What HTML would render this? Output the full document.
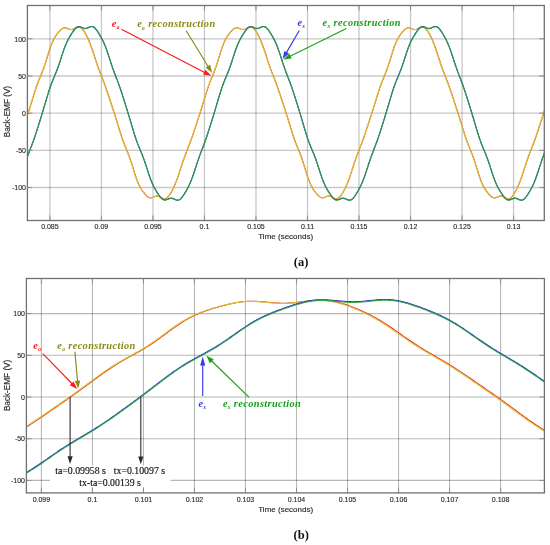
<!DOCTYPE html><html><head><meta charset="utf-8"><style>html,body{margin:0;padding:0;background:#fff;}svg{display:block;filter:blur(0.28px)}</style></head><body>
<svg width="550" height="545" viewBox="0 0 550 545">
<rect width="550" height="545" fill="#fff"/>
<g style="mix-blend-mode:multiply">
<line x1="49.90" y1="5.5" x2="49.90" y2="220.5" stroke="#c8c8c8" stroke-width="1.3" style="mix-blend-mode:multiply"/>
<line x1="101.42" y1="5.5" x2="101.42" y2="220.5" stroke="#c8c8c8" stroke-width="1.3" style="mix-blend-mode:multiply"/>
<line x1="152.94" y1="5.5" x2="152.94" y2="220.5" stroke="#c8c8c8" stroke-width="1.3" style="mix-blend-mode:multiply"/>
<line x1="204.46" y1="5.5" x2="204.46" y2="220.5" stroke="#c8c8c8" stroke-width="1.3" style="mix-blend-mode:multiply"/>
<line x1="255.98" y1="5.5" x2="255.98" y2="220.5" stroke="#c8c8c8" stroke-width="1.3" style="mix-blend-mode:multiply"/>
<line x1="307.50" y1="5.5" x2="307.50" y2="220.5" stroke="#c8c8c8" stroke-width="1.3" style="mix-blend-mode:multiply"/>
<line x1="359.02" y1="5.5" x2="359.02" y2="220.5" stroke="#c8c8c8" stroke-width="1.3" style="mix-blend-mode:multiply"/>
<line x1="410.54" y1="5.5" x2="410.54" y2="220.5" stroke="#c8c8c8" stroke-width="1.3" style="mix-blend-mode:multiply"/>
<line x1="462.06" y1="5.5" x2="462.06" y2="220.5" stroke="#c8c8c8" stroke-width="1.3" style="mix-blend-mode:multiply"/>
<line x1="513.58" y1="5.5" x2="513.58" y2="220.5" stroke="#c8c8c8" stroke-width="1.3" style="mix-blend-mode:multiply"/>
<line x1="27.4" y1="187.51" x2="544.3" y2="187.51" stroke="#c8c8c8" stroke-width="1.3" style="mix-blend-mode:multiply"/>
<line x1="27.4" y1="150.34" x2="544.3" y2="150.34" stroke="#c8c8c8" stroke-width="1.3" style="mix-blend-mode:multiply"/>
<line x1="27.4" y1="113.16" x2="544.3" y2="113.16" stroke="#c8c8c8" stroke-width="1.3" style="mix-blend-mode:multiply"/>
<line x1="27.4" y1="75.98" x2="544.3" y2="75.98" stroke="#c8c8c8" stroke-width="1.3" style="mix-blend-mode:multiply"/>
<line x1="27.4" y1="38.81" x2="544.3" y2="38.81" stroke="#c8c8c8" stroke-width="1.3" style="mix-blend-mode:multiply"/>
</g>
<clipPath id="ca"><rect x="27.4" y="5.5" width="516.90" height="215.00"/></clipPath>
<g clip-path="url(#ca)" fill="none" stroke-linejoin="round">
<polyline points="26.40,118.52 27.15,116.23 27.90,113.92 28.65,111.59 29.40,109.23 30.15,106.84 30.90,104.43 31.65,101.98 32.40,99.53 33.15,97.08 33.90,94.65 34.65,92.26 35.40,89.94 36.15,87.69 36.90,85.54 37.65,83.49 38.40,81.52 39.15,79.62 39.90,77.78 40.65,75.96 41.40,74.12 42.15,72.25 42.90,70.31 43.65,68.28 44.40,66.14 45.15,63.90 45.90,61.57 46.65,59.17 47.40,56.73 48.15,54.28 48.90,51.88 49.65,49.55 50.40,47.33 51.15,45.25 51.90,43.34 52.65,41.59 53.40,40.00 54.15,38.57 54.90,37.27 55.65,36.09 56.40,34.99 57.15,33.97 57.90,33.01 58.65,32.09 59.40,31.23 60.15,30.42 60.90,29.69 61.65,29.06 62.40,28.54 63.15,28.15 63.90,27.90 64.65,27.80 65.40,27.83 66.15,27.99 66.90,28.23 67.65,28.53 68.40,28.85 69.15,29.14 69.90,29.37 70.65,29.51 71.40,29.54 72.15,29.45 72.90,29.24 73.65,28.92 74.40,28.54 75.15,28.11 75.90,27.69 76.65,27.31 77.40,27.03 78.15,26.87 78.90,26.85 79.65,27.01 80.40,27.35 81.15,27.86 81.90,28.54 82.65,29.38 83.40,30.35 84.15,31.45 84.90,32.64 85.65,33.94 86.40,35.32 87.15,36.79 87.90,38.35 88.65,40.00 89.40,41.75 90.15,43.61 90.90,45.58 91.65,47.64 92.40,49.80 93.15,52.04 93.90,54.32 94.65,56.64 95.40,58.96 96.15,61.27 96.90,63.53 97.65,65.73 98.40,67.87 99.15,69.93 99.90,71.94 100.65,73.89 101.40,75.81 102.15,77.72 102.90,79.64 103.65,81.58 104.40,83.56 105.15,85.60 105.90,87.70 106.65,89.85 107.40,92.04 108.15,94.28 108.90,96.54 109.65,98.82 110.40,101.11 111.15,103.40 111.90,105.69 112.65,107.98 113.40,110.29 114.15,112.60 114.90,114.94 115.65,117.31 116.40,119.71 117.15,122.14 117.90,124.59 118.65,127.05 119.40,129.49 120.15,131.91 120.90,134.27 121.65,136.56 122.40,138.77 123.15,140.88 123.90,142.90 124.65,144.83 125.40,146.70 126.15,148.53 126.90,150.36 127.65,152.20 128.40,154.10 129.15,156.08 129.90,158.15 130.65,160.33 131.40,162.61 132.15,164.98 132.90,167.40 133.65,169.85 134.40,172.28 135.15,174.66 135.90,176.95 136.65,179.11 137.40,181.12 138.15,182.96 138.90,184.64 139.65,186.16 140.40,187.54 141.15,188.78 141.90,189.93 142.65,190.99 143.40,191.99 144.15,192.93 144.90,193.83 145.65,194.67 146.40,195.44 147.15,196.13 147.90,196.72 148.65,197.19 149.40,197.52 150.15,197.71 150.90,197.75 151.65,197.67 152.40,197.47 153.15,197.20 153.90,196.89 154.65,196.58 155.40,196.30 156.15,196.11 156.90,196.01 157.65,196.03 158.40,196.18 159.15,196.43 159.90,196.78 160.65,197.19 161.40,197.62 162.15,198.03 162.90,198.37 163.65,198.61 164.40,198.71 165.15,198.65 165.90,198.42 166.65,198.01 167.40,197.42 168.15,196.67 168.90,195.78 169.65,194.75 170.40,193.62 171.15,192.38 171.90,191.05 172.65,189.63 173.40,188.12 174.15,186.53 174.90,184.83 175.65,183.03 176.40,181.13 177.15,179.12 177.90,177.02 178.65,174.82 179.40,172.56 180.15,170.26 180.90,167.94 181.65,165.62 182.40,163.33 183.15,161.10 183.90,158.92 184.65,156.81 185.40,154.77 186.15,152.79 186.90,150.86 187.65,148.94 188.40,147.03 189.15,145.11 189.90,143.15 190.65,141.14 191.40,139.08 192.15,136.96 192.90,134.79 193.65,132.58 194.40,130.33 195.15,128.06 195.90,125.77 196.65,123.48 197.40,121.19 198.15,118.90 198.90,116.61 199.65,114.30 200.40,111.97 201.15,109.62 201.90,107.24 202.65,104.83 203.40,102.39 204.15,99.93 204.90,97.48 205.65,95.04 206.40,92.65 207.15,90.31 207.90,88.06 208.65,85.89 209.40,83.82 210.15,81.83 210.90,79.93 211.65,78.08 212.40,76.26 213.15,74.43 213.90,72.56 214.65,70.64 215.40,68.62 216.15,66.50 216.90,64.28 217.65,61.96 218.40,59.57 219.15,57.13 219.90,54.68 220.65,52.27 221.40,49.92 222.15,47.69 222.90,45.58 223.65,43.64 224.40,41.86 225.15,40.25 225.90,38.80 226.65,37.48 227.40,36.28 228.15,35.17 228.90,34.14 229.65,33.16 230.40,32.24 231.15,31.36 231.90,30.55 232.65,29.81 233.40,29.16 234.15,28.62 234.90,28.21 235.65,27.94 236.40,27.81 237.15,27.82 237.90,27.95 238.65,28.18 239.40,28.48 240.15,28.80 240.90,29.10 241.65,29.34 242.40,29.50 243.15,29.55 243.90,29.47 244.65,29.28 245.40,28.98 246.15,28.60 246.90,28.18 247.65,27.76 248.40,27.37 249.15,27.07 249.90,26.88 250.65,26.85 251.40,26.97 252.15,27.28 252.90,27.77 253.65,28.42 254.40,29.23 255.15,30.18 255.90,31.26 256.65,32.44 257.40,33.72 258.15,35.09 258.90,36.54 259.65,38.08 260.40,39.72 261.15,41.46 261.90,43.30 262.65,45.25 263.40,47.30 264.15,49.44 264.90,51.66 265.65,53.94 266.40,56.26 267.15,58.58 267.90,60.89 268.65,63.16 269.40,65.37 270.15,67.52 270.90,69.60 271.65,71.61 272.40,73.57 273.15,75.50 273.90,77.41 274.65,79.32 275.40,81.26 276.15,83.23 276.90,85.26 277.65,87.35 278.40,89.49 279.15,91.68 279.90,93.91 280.65,96.17 281.40,98.45 282.15,100.73 282.90,103.02 283.65,105.31 284.40,107.61 285.15,109.91 285.90,112.22 286.65,114.56 287.40,116.92 288.15,119.32 288.90,121.74 289.65,124.19 290.40,126.64 291.15,129.09 291.90,131.51 292.65,133.89 293.40,136.19 294.15,138.41 294.90,140.54 295.65,142.57 296.40,144.52 297.15,146.40 297.90,148.24 298.65,150.06 299.40,151.90 300.15,153.78 300.90,155.75 301.65,157.80 302.40,159.97 303.15,162.23 303.90,164.58 304.65,167.00 305.40,169.44 306.15,171.88 306.90,174.27 307.65,176.58 308.40,178.76 309.15,180.80 309.90,182.67 310.65,184.38 311.40,185.92 312.15,187.32 312.90,188.59 313.65,189.75 314.40,190.82 315.15,191.83 315.90,192.78 316.65,193.68 317.40,194.53 318.15,195.32 318.90,196.03 319.65,196.63 320.40,197.12 321.15,197.47 321.90,197.69 322.65,197.75 323.40,197.69 324.15,197.51 324.90,197.25 325.65,196.94 326.40,196.63 327.15,196.34 327.90,196.13 328.65,196.02 329.40,196.02 330.15,196.14 330.90,196.38 331.65,196.72 332.40,197.12 333.15,197.55 333.90,197.96 334.65,198.32 335.40,198.58 336.15,198.70 336.90,198.67 337.65,198.47 338.40,198.09 339.15,197.53 339.90,196.81 340.65,195.94 341.40,194.93 342.15,193.81 342.90,192.59 343.65,191.27 344.40,189.87 345.15,188.38 345.90,186.80 346.65,185.12 347.40,183.34 348.15,181.45 348.90,179.46 349.65,177.37 350.40,175.19 351.15,172.94 351.90,170.64 352.65,168.32 353.40,166.00 354.15,163.71 354.90,161.46 355.65,159.27 356.40,157.16 357.15,155.11 357.90,153.12 358.65,151.17 359.40,149.26 360.15,147.35 360.90,145.43 361.65,143.47 362.40,141.48 363.15,139.42 363.90,137.31 364.65,135.15 365.40,132.94 366.15,130.70 366.90,128.43 367.65,126.15 368.40,123.86 369.15,121.57 369.90,119.28 370.65,116.98 371.40,114.68 372.15,112.36 372.90,110.01 373.65,107.63 374.40,105.22 375.15,102.79 375.90,100.34 376.65,97.88 377.40,95.44 378.15,93.04 378.90,90.69 379.65,88.42 380.40,86.24 381.15,84.15 381.90,82.16 382.65,80.24 383.40,78.38 384.15,76.55 384.90,74.73 385.65,72.87 386.40,70.96 387.15,68.96 387.90,66.86 388.65,64.65 389.40,62.35 390.15,59.97 390.90,57.53 391.65,55.08 392.40,52.66 393.15,50.30 393.90,48.04 394.65,45.92 395.40,43.95 396.15,42.14 396.90,40.51 397.65,39.03 398.40,37.69 399.15,36.47 399.90,35.35 400.65,34.30 401.40,33.32 402.15,32.39 402.90,31.50 403.65,30.68 404.40,29.92 405.15,29.26 405.90,28.70 406.65,28.26 407.40,27.97 408.15,27.82 408.90,27.81 409.65,27.92 410.40,28.14 411.15,28.43 411.90,28.74 412.65,29.05 413.40,29.31 414.15,29.48 414.90,29.55 415.65,29.49 416.40,29.32 417.15,29.04 417.90,28.67 418.65,28.25 419.40,27.82 420.15,27.43 420.90,27.11 421.65,26.90 422.40,26.84 423.15,26.94 423.90,27.22 424.65,27.68 425.40,28.30 426.15,29.09 426.90,30.02 427.65,31.07 428.40,32.24 429.15,33.50 429.90,34.86 430.65,36.29 431.40,37.82 432.15,39.44 432.90,41.16 433.65,42.99 434.40,44.92 435.15,46.95 435.90,49.08 436.65,51.29 437.40,53.57 438.15,55.88 438.90,58.20 439.65,60.51 440.40,62.79 441.15,65.01 441.90,67.17 442.65,69.26 443.40,71.28 444.15,73.25 444.90,75.18 445.65,77.09 446.40,79.00 447.15,80.94 447.90,82.91 448.65,84.93 449.40,87.00 450.15,89.13 450.90,91.31 451.65,93.54 452.40,95.80 453.15,98.07 453.90,100.36 454.65,102.65 455.40,104.94 456.15,107.23 456.90,109.53 457.65,111.84 458.40,114.17 459.15,116.53 459.90,118.92 460.65,121.34 461.40,123.78 462.15,126.24 462.90,128.69 463.65,131.12 464.40,133.50 465.15,135.82 465.90,138.05 466.65,140.19 467.40,142.24 468.15,144.20 468.90,146.09 469.65,147.94 470.40,149.76 471.15,151.59 471.90,153.47 472.65,155.42 473.40,157.46 474.15,159.60 474.90,161.85 475.65,164.19 476.40,166.60 477.15,169.04 477.90,171.48 478.65,173.89 479.40,176.21 480.15,178.41 480.90,180.47 481.65,182.38 482.40,184.11 483.15,185.68 483.90,187.10 484.65,188.39 485.40,189.56 486.15,190.65 486.90,191.67 487.65,192.63 488.40,193.54 489.15,194.40 489.90,195.20 490.65,195.92 491.40,196.54 492.15,197.05 492.90,197.43 493.65,197.66 494.40,197.75 495.15,197.71 495.90,197.55 496.65,197.30 497.40,196.99 498.15,196.68 498.90,196.39 499.65,196.16 500.40,196.03 501.15,196.01 501.90,196.11 502.65,196.34 503.40,196.66 504.15,197.05 504.90,197.48 505.65,197.90 506.40,198.27 507.15,198.54 507.90,198.69 508.65,198.69 509.40,198.51 510.15,198.16 510.90,197.63 511.65,196.94 512.40,196.09 513.15,195.10 513.90,194.00 514.65,192.79 515.40,191.49 516.15,190.10 516.90,188.63 517.65,187.06 518.40,185.40 519.15,183.64 519.90,181.77 520.65,179.79 521.40,177.72 522.15,175.55 522.90,173.31 523.65,171.02 524.40,168.70 525.15,166.38 525.90,164.08 526.65,161.83 527.40,159.63 528.15,157.50 528.90,155.44 529.65,153.44 530.40,151.49 531.15,149.57 531.90,147.66 532.65,145.74 533.40,143.80 534.15,141.81 534.90,139.76 535.65,137.67 536.40,135.51 537.15,133.31 537.90,131.07 538.65,128.81 539.40,126.53 540.15,124.24 540.90,121.95 541.65,119.66 542.40,117.36 543.15,115.06 543.90,112.74 544.65,110.40" stroke="#f02818" stroke-width="1.05"/>
<polyline points="26.40,117.85 27.15,115.55 27.90,113.23 28.65,110.90 29.40,108.53 30.15,106.13 30.90,103.71 31.65,101.26 32.40,98.80 33.15,96.35 33.90,93.94 34.65,91.57 35.40,89.27 36.15,87.05 36.90,84.93 37.65,82.91 38.40,80.96 39.15,79.09 39.90,77.25 40.65,75.43 41.40,73.59 42.15,71.70 42.90,69.73 43.65,67.67 44.40,65.50 45.15,63.23 45.90,60.87 46.65,58.45 47.40,56.00 48.15,53.57 48.90,51.18 49.65,48.88 50.40,46.71 51.15,44.68 51.90,42.82 52.65,41.12 53.40,39.59 54.15,38.20 54.90,36.94 55.65,35.79 56.40,34.72 57.15,33.72 57.90,32.77 58.65,31.87 59.40,31.02 60.15,30.24 60.90,29.54 61.65,28.94 62.40,28.46 63.15,28.12 63.90,27.92 64.65,27.86 65.40,27.93 66.15,28.12 66.90,28.38 67.65,28.69 68.40,29.01 69.15,29.28 69.90,29.49 70.65,29.60 71.40,29.59 72.15,29.45 72.90,29.21 73.65,28.87 74.40,28.46 75.15,28.03 75.90,27.62 76.65,27.27 77.40,27.02 78.15,26.90 78.90,26.95 79.65,27.16 80.40,27.56 81.15,28.12 81.90,28.86 82.65,29.74 83.40,30.75 84.15,31.88 84.90,33.11 85.65,34.43 86.40,35.84 87.15,37.34 87.90,38.92 88.65,40.61 89.40,42.40 90.15,44.29 90.90,46.29 91.65,48.39 92.40,50.57 93.15,52.82 93.90,55.12 94.65,57.45 95.40,59.76 96.15,62.06 96.90,64.30 97.65,66.48 98.40,68.59 99.15,70.64 99.90,72.63 100.65,74.57 101.40,76.48 102.15,78.39 102.90,80.31 103.65,82.27 104.40,84.27 105.15,86.33 105.90,88.44 106.65,90.60 107.40,92.81 108.15,95.06 108.90,97.33 109.65,99.61 110.40,101.90 111.15,104.19 111.90,106.48 112.65,108.78 113.40,111.09 114.15,113.41 114.90,115.76 115.65,118.14 116.40,120.55 117.15,122.98 117.90,125.44 118.65,127.89 119.40,130.33 120.15,132.73 120.90,135.07 121.65,137.34 122.40,139.51 123.15,141.59 123.90,143.59 124.65,145.50 125.40,147.35 126.15,149.18 126.90,151.00 127.65,152.86 128.40,154.78 129.15,156.79 129.90,158.90 130.65,161.11 131.40,163.42 132.15,165.81 132.90,168.24 133.65,170.69 134.40,173.11 135.15,175.46 135.90,177.71 136.65,179.83 137.40,181.79 138.15,183.58 138.90,185.21 139.65,186.68 140.40,188.01 141.15,189.22 141.90,190.34 142.65,191.38 143.40,192.36 144.15,193.29 144.90,194.16 145.65,194.98 146.40,195.73 147.15,196.39 147.90,196.95 148.65,197.37 149.40,197.65 150.15,197.80 150.90,197.80 151.65,197.67 152.40,197.45 153.15,197.16 153.90,196.85 154.65,196.54 155.40,196.29 156.15,196.12 156.90,196.06 157.65,196.12 158.40,196.31 159.15,196.60 159.90,196.97 160.65,197.39 161.40,197.81 162.15,198.20 162.90,198.52 163.65,198.72 164.40,198.77 165.15,198.66 165.90,198.37 166.65,197.90 167.40,197.26 168.15,196.46 168.90,195.52 169.65,194.46 170.40,193.29 171.15,192.02 171.90,190.66 172.65,189.22 173.40,187.68 174.15,186.05 174.90,184.33 175.65,182.50 176.40,180.56 177.15,178.52 177.90,176.38 178.65,174.17 179.40,171.89 180.15,169.58 180.90,167.25 181.65,164.94 182.40,162.67 183.15,160.45 183.90,158.30 184.65,156.21 185.40,154.19 186.15,152.23 186.90,150.30 187.65,148.39 188.40,146.48 189.15,144.54 189.90,142.57 190.65,140.55 191.40,138.47 192.15,136.33 192.90,134.15 193.65,131.92 194.40,129.66 195.15,127.39 195.90,125.10 196.65,122.81 197.40,120.52 198.15,118.23 198.90,115.93 199.65,113.62 200.40,111.28 201.15,108.92 201.90,106.53 202.65,104.11 203.40,101.66 204.15,99.21 204.90,96.76 205.65,94.33 206.40,91.95 207.15,89.64 207.90,87.41 208.65,85.28 209.40,83.23 210.15,81.28 210.90,79.39 211.65,77.55 212.40,75.73 213.15,73.90 213.90,72.02 214.65,70.06 215.40,68.01 216.15,65.86 216.90,63.61 217.65,61.26 218.40,58.85 219.15,56.41 219.90,53.96 220.65,51.57 221.40,49.25 222.15,47.06 222.90,45.00 223.65,43.11 224.40,41.39 225.15,39.83 225.90,38.42 226.65,37.14 227.40,35.97 228.15,34.89 228.90,33.88 229.65,32.92 230.40,32.01 231.15,31.16 231.90,30.36 232.65,29.65 233.40,29.03 234.15,28.53 234.90,28.16 235.65,27.94 236.40,27.86 237.15,27.91 237.90,28.08 238.65,28.33 239.40,28.64 240.15,28.96 240.90,29.24 241.65,29.46 242.40,29.59 243.15,29.60 243.90,29.48 244.65,29.26 245.40,28.93 246.15,28.53 246.90,28.10 247.65,27.69 248.40,27.32 249.15,27.05 249.90,26.91 250.65,26.93 251.40,27.11 252.15,27.48 252.90,28.02 253.65,28.72 254.40,29.58 255.15,30.58 255.90,31.69 256.65,32.90 257.40,34.21 258.15,35.60 258.90,37.08 259.65,38.66 260.40,40.33 261.15,42.10 261.90,43.97 262.65,45.95 263.40,48.03 264.15,50.20 264.90,52.45 265.65,54.74 266.40,57.06 267.15,59.38 267.90,61.68 268.65,63.93 269.40,66.13 270.15,68.25 270.90,70.31 271.65,72.30 272.40,74.25 273.15,76.17 273.90,78.08 274.65,80.00 275.40,81.94 276.15,83.94 276.90,85.98 277.65,88.09 278.40,90.24 279.15,92.45 279.90,94.69 280.65,96.96 281.40,99.24 282.15,101.53 282.90,103.82 283.65,106.11 284.40,108.40 285.15,110.71 285.90,113.03 286.65,115.37 287.40,117.74 288.15,120.15 288.90,122.58 289.65,125.03 290.40,127.49 291.15,129.93 291.90,132.34 292.65,134.69 293.40,136.97 294.15,139.16 294.90,141.26 295.65,143.26 296.40,145.19 297.15,147.05 297.90,148.88 298.65,150.70 299.40,152.55 300.15,154.46 300.90,156.45 301.65,158.54 302.40,160.74 303.15,163.03 303.90,165.41 304.65,167.84 305.40,170.29 306.15,172.71 306.90,175.08 307.65,177.35 308.40,179.49 309.15,181.48 309.90,183.30 310.65,184.95 311.40,186.45 312.15,187.80 312.90,189.03 313.65,190.16 314.40,191.21 315.15,192.20 315.90,193.14 316.65,194.02 317.40,194.85 318.15,195.62 318.90,196.29 319.65,196.86 320.40,197.31 321.15,197.62 321.90,197.78 322.65,197.81 323.40,197.70 324.15,197.49 324.90,197.21 325.65,196.90 326.40,196.59 327.15,196.33 327.90,196.14 328.65,196.06 329.40,196.11 330.15,196.27 330.90,196.54 331.65,196.90 332.40,197.32 333.15,197.74 333.90,198.14 334.65,198.47 335.40,198.69 336.15,198.77 336.90,198.69 337.65,198.43 338.40,197.99 339.15,197.38 339.90,196.60 340.65,195.69 341.40,194.64 342.15,193.49 342.90,192.24 343.65,190.89 344.40,189.46 345.15,187.94 345.90,186.33 346.65,184.62 347.40,182.80 348.15,180.88 348.90,178.86 349.65,176.74 350.40,174.54 351.15,172.27 351.90,169.96 352.65,167.64 353.40,165.32 354.15,163.04 354.90,160.81 355.65,158.65 356.40,156.55 357.15,154.52 357.90,152.55 358.65,150.62 359.40,148.71 360.15,146.80 360.90,144.87 361.65,142.90 362.40,140.88 363.15,138.81 363.90,136.69 364.65,134.51 365.40,132.29 366.15,130.04 366.90,127.76 367.65,125.48 368.40,123.19 369.15,120.90 369.90,118.60 370.65,116.31 371.40,114.00 372.15,111.67 372.90,109.31 373.65,106.93 374.40,104.51 375.15,102.07 375.90,99.61 376.65,97.16 377.40,94.73 378.15,92.34 378.90,90.02 379.65,87.77 380.40,85.62 381.15,83.56 381.90,81.59 382.65,79.70 383.40,77.85 384.15,76.03 384.90,74.20 385.65,72.33 386.40,70.39 387.15,68.36 387.90,66.22 388.65,63.98 389.40,61.65 390.15,59.25 390.90,56.81 391.65,54.36 392.40,51.96 393.15,49.63 393.90,47.41 394.65,45.33 395.40,43.41 396.15,41.66 396.90,40.08 397.65,38.64 398.40,37.34 399.15,36.16 399.90,35.06 400.65,34.04 401.40,33.07 402.15,32.16 402.90,31.29 403.65,30.49 404.40,29.76 405.15,29.13 405.90,28.61 406.65,28.22 407.40,27.97 408.15,27.86 408.90,27.89 409.65,28.04 410.40,28.29 411.15,28.59 411.90,28.90 412.65,29.20 413.40,29.43 414.15,29.57 414.90,29.60 415.65,29.51 416.40,29.30 417.15,28.99 417.90,28.60 418.65,28.17 419.40,27.75 420.15,27.38 420.90,27.09 421.65,26.93 422.40,26.91 423.15,27.07 423.90,27.41 424.65,27.92 425.40,28.60 426.15,29.43 426.90,30.40 427.65,31.50 428.40,32.69 429.15,33.99 429.90,35.37 430.65,36.83 431.40,38.39 432.15,40.04 432.90,41.80 433.65,43.66 434.40,45.62 435.15,47.68 435.90,49.84 436.65,52.07 437.40,54.36 438.15,56.68 438.90,59.00 439.65,61.31 440.40,63.57 441.15,65.77 441.90,67.91 442.65,69.97 443.40,71.98 444.15,73.93 444.90,75.85 445.65,77.76 446.40,79.68 447.15,81.62 447.90,83.61 448.65,85.64 449.40,87.74 450.15,89.89 450.90,92.08 451.65,94.32 452.40,96.58 453.15,98.86 453.90,101.15 454.65,103.44 455.40,105.73 456.15,108.02 456.90,110.33 457.65,112.64 458.40,114.98 459.15,117.35 459.90,119.75 460.65,122.18 461.40,124.63 462.15,127.09 462.90,129.53 463.65,131.95 464.40,134.31 465.15,136.60 465.90,138.81 466.65,140.92 467.40,142.94 468.15,144.88 468.90,146.75 469.65,148.58 470.40,150.40 471.15,152.24 471.90,154.14 472.65,156.12 473.40,158.19 474.15,160.37 474.90,162.65 475.65,165.01 476.40,167.44 477.15,169.88 477.90,172.32 478.65,174.70 479.40,176.99 480.15,179.15 480.90,181.16 481.65,183.01 482.40,184.69 483.15,186.21 483.90,187.59 484.65,188.83 485.40,189.98 486.15,191.04 486.90,192.04 487.65,192.99 488.40,193.88 489.15,194.72 489.90,195.50 490.65,196.19 491.40,196.78 492.15,197.24 492.90,197.58 493.65,197.77 494.40,197.81 495.15,197.73 495.90,197.53 496.65,197.26 497.40,196.95 498.15,196.64 498.90,196.37 499.65,196.17 500.40,196.07 501.15,196.09 501.90,196.23 502.65,196.49 503.40,196.84 504.15,197.25 504.90,197.67 505.65,198.08 506.40,198.43 507.15,198.67 507.90,198.77 508.65,198.71 509.40,198.48 510.15,198.07 510.90,197.49 511.65,196.74 512.40,195.85 513.15,194.82 513.90,193.69 514.65,192.45 515.40,191.12 516.15,189.70 516.90,188.20 517.65,186.60 518.40,184.91 519.15,183.11 519.90,181.21 520.65,179.20 521.40,177.10 522.15,174.90 522.90,172.65 523.65,170.34 524.40,168.02 525.15,165.70 525.90,163.41 526.65,161.18 527.40,159.00 528.15,156.89 528.90,154.85 529.65,152.87 530.40,150.93 531.15,149.02 531.90,147.11 532.65,145.18 533.40,143.23 534.15,141.22 534.90,139.16 535.65,137.04 536.40,134.87 537.15,132.66 537.90,130.41 538.65,128.14 539.40,125.85 540.15,123.56 540.90,121.27 541.65,118.98 542.40,116.69 543.15,114.38 543.90,112.05 544.65,109.70" stroke="#d8c43a" stroke-width="1.25" stroke-opacity="0.95"/>
<polyline points="26.40,159.53 27.15,157.39 27.90,155.31 28.65,153.29 29.40,151.31 30.15,149.36 30.90,147.41 31.65,145.44 32.40,143.43 33.15,141.39 33.90,139.28 34.65,137.12 35.40,134.90 36.15,132.62 36.90,130.31 37.65,127.96 38.40,125.59 39.15,123.19 39.90,120.78 40.65,118.35 41.40,115.91 42.15,113.45 42.90,110.96 43.65,108.46 44.40,105.93 45.15,103.39 45.90,100.85 46.65,98.32 47.40,95.82 48.15,93.37 48.90,90.99 49.65,88.70 50.40,86.51 51.15,84.42 51.90,82.43 52.65,80.53 53.40,78.69 54.15,76.89 54.90,75.10 55.65,73.29 56.40,71.43 57.15,69.50 57.90,67.48 58.65,65.36 59.40,63.16 60.15,60.88 60.90,58.55 61.65,56.21 62.40,53.89 63.15,51.62 63.90,49.44 64.65,47.37 65.40,45.43 66.15,43.63 66.90,41.96 67.65,40.42 68.40,38.98 69.15,37.63 69.90,36.35 70.65,35.12 71.40,33.93 72.15,32.77 72.90,31.66 73.65,30.61 74.40,29.63 75.15,28.75 75.90,28.00 76.65,27.40 77.40,26.97 78.15,26.71 78.90,26.61 79.65,26.67 80.40,26.85 81.15,27.12 81.90,27.44 82.65,27.77 83.40,28.05 84.15,28.26 84.90,28.36 85.65,28.35 86.40,28.23 87.15,28.00 87.90,27.69 88.65,27.34 89.40,27.00 90.15,26.70 90.90,26.49 91.65,26.41 92.40,26.48 93.15,26.73 93.90,27.15 94.65,27.74 95.40,28.49 96.15,29.38 96.90,30.38 97.65,31.48 98.40,32.64 99.15,33.86 99.90,35.12 100.65,36.43 101.40,37.79 102.15,39.22 102.90,40.72 103.65,42.32 104.40,44.03 105.15,45.86 105.90,47.80 106.65,49.86 107.40,52.02 108.15,54.25 108.90,56.54 109.65,58.86 110.40,61.17 111.15,63.45 111.90,65.69 112.65,67.86 113.40,69.97 114.15,72.03 114.90,74.03 115.65,75.99 116.40,77.95 117.15,79.90 117.90,81.88 118.65,83.90 119.40,85.98 120.15,88.11 120.90,90.29 121.65,92.54 122.40,94.83 123.15,97.16 123.90,99.52 124.65,101.90 125.40,104.30 126.15,106.72 126.90,109.15 127.65,111.60 128.40,114.07 129.15,116.57 129.90,119.08 130.65,121.62 131.40,124.16 132.15,126.70 132.90,129.22 133.65,131.70 134.40,134.12 135.15,136.46 135.90,138.71 136.65,140.86 137.40,142.91 138.15,144.86 138.90,146.74 139.65,148.55 140.40,150.34 141.15,152.14 141.90,153.97 142.65,155.85 143.40,157.82 144.15,159.88 144.90,162.04 145.65,164.28 146.40,166.58 147.15,168.91 147.90,171.25 148.65,173.55 149.40,175.79 150.15,177.93 150.90,179.94 151.65,181.83 152.40,183.57 153.15,185.19 153.90,186.68 154.65,188.08 155.40,189.40 156.15,190.66 156.90,191.87 157.65,193.05 158.40,194.19 159.15,195.28 159.90,196.30 160.65,197.24 161.40,198.06 162.15,198.75 162.90,199.29 163.65,199.65 164.40,199.84 165.15,199.87 165.90,199.76 166.65,199.53 167.40,199.23 168.15,198.91 168.90,198.60 169.65,198.34 170.40,198.17 171.15,198.12 171.90,198.18 172.65,198.35 173.40,198.61 174.15,198.94 174.90,199.29 175.65,199.62 176.40,199.89 177.15,200.05 177.90,200.07 178.65,199.93 179.40,199.61 180.15,199.11 180.90,198.45 181.65,197.64 182.40,196.70 183.15,195.66 183.90,194.53 184.65,193.35 185.40,192.11 186.15,190.83 186.90,189.50 187.65,188.11 188.40,186.66 189.15,185.11 189.90,183.47 190.65,181.71 191.40,179.83 192.15,177.84 192.90,175.74 193.65,173.54 194.40,171.28 195.15,168.98 195.90,166.67 196.65,164.36 197.40,162.10 198.15,159.89 198.90,157.74 199.65,155.65 200.40,153.62 201.15,151.64 201.90,149.68 202.65,147.73 203.40,145.76 204.15,143.77 204.90,141.73 205.65,139.63 206.40,137.48 207.15,135.26 207.90,133.00 208.65,130.69 209.40,128.35 210.15,125.98 210.90,123.59 211.65,121.18 212.40,118.76 213.15,116.31 213.90,113.86 214.65,111.37 215.40,108.87 216.15,106.35 216.90,103.81 217.65,101.27 218.40,98.73 219.15,96.23 219.90,93.77 220.65,91.38 221.40,89.07 222.15,86.86 222.90,84.76 223.65,82.75 224.40,80.83 225.15,78.99 225.90,77.19 226.65,75.40 227.40,73.59 228.15,71.74 228.90,69.82 229.65,67.82 230.40,65.71 231.15,63.52 231.90,61.26 232.65,58.94 233.40,56.60 234.15,54.27 234.90,51.99 235.65,49.79 236.40,47.70 237.15,45.74 237.90,43.92 238.65,42.23 239.40,40.66 240.15,39.21 240.90,37.85 241.65,36.55 242.40,35.32 243.15,34.12 243.90,32.96 244.65,31.84 245.40,30.78 246.15,29.78 246.90,28.89 247.65,28.12 248.40,27.49 249.15,27.03 249.90,26.74 250.65,26.62 251.40,26.65 252.15,26.81 252.90,27.07 253.65,27.39 254.40,27.71 255.15,28.01 255.90,28.23 256.65,28.35 257.40,28.36 258.15,28.25 258.90,28.04 259.65,27.74 260.40,27.40 261.15,27.05 261.90,26.75 262.65,26.52 263.40,26.41 264.15,26.46 264.90,26.67 265.65,27.07 266.40,27.63 267.15,28.36 267.90,29.23 268.65,30.21 269.40,31.29 270.15,32.44 270.90,33.65 271.65,34.91 272.40,36.21 273.15,37.56 273.90,38.98 274.65,40.47 275.40,42.05 276.15,43.74 276.90,45.55 277.65,47.48 278.40,49.52 279.15,51.66 279.90,53.88 280.65,56.16 281.40,58.47 282.15,60.79 282.90,63.08 283.65,65.32 284.40,67.51 285.15,69.63 285.90,71.69 286.65,73.70 287.40,75.67 288.15,77.62 288.90,79.58 289.65,81.55 290.40,83.57 291.15,85.63 291.90,87.75 292.65,89.93 293.40,92.16 294.15,94.45 294.90,96.77 295.65,99.13 296.40,101.51 297.15,103.91 297.90,106.32 298.65,108.75 299.40,111.20 300.15,113.67 300.90,116.16 301.65,118.67 302.40,121.20 303.15,123.74 303.90,126.28 304.65,128.81 305.40,131.30 306.15,133.73 306.90,136.08 307.65,138.35 308.40,140.52 309.15,142.58 309.90,144.55 310.65,146.43 311.40,148.26 312.15,150.05 312.90,151.84 313.65,153.66 314.40,155.54 315.15,157.49 315.90,159.54 316.65,161.68 317.40,163.90 318.15,166.20 318.90,168.53 319.65,170.87 320.40,173.18 321.15,175.43 321.90,177.58 322.65,179.62 323.40,181.53 324.15,183.29 324.90,184.93 325.65,186.45 326.40,187.86 327.15,189.19 327.90,190.46 328.65,191.68 329.40,192.86 330.15,194.00 330.90,195.10 331.65,196.14 332.40,197.09 333.15,197.94 333.90,198.65 334.65,199.21 335.40,199.60 336.15,199.82 336.90,199.88 337.65,199.78 338.40,199.57 339.15,199.29 339.90,198.96 340.65,198.65 341.40,198.38 342.15,198.19 342.90,198.12 343.65,198.16 344.40,198.31 345.15,198.56 345.90,198.88 346.65,199.23 347.40,199.57 348.15,199.85 348.90,200.03 349.65,200.07 350.40,199.96 351.15,199.67 351.90,199.21 352.65,198.57 353.40,197.78 354.15,196.86 354.90,195.84 355.65,194.72 356.40,193.55 357.15,192.32 357.90,191.04 358.65,189.72 359.40,188.34 360.15,186.90 360.90,185.37 361.65,183.74 362.40,182.01 363.15,180.15 363.90,178.17 364.65,176.09 365.40,173.91 366.15,171.66 366.90,169.36 367.65,167.05 368.40,164.74 369.15,162.47 369.90,160.25 370.65,158.09 371.40,155.99 372.15,153.95 372.90,151.96 373.65,150.00 374.40,148.05 375.15,146.09 375.90,144.10 376.65,142.07 377.40,139.98 378.15,137.83 378.90,135.63 379.65,133.38 380.40,131.08 381.15,128.74 381.90,126.37 382.65,123.98 383.40,121.58 384.15,119.15 384.90,116.72 385.65,114.26 386.40,111.78 387.15,109.28 387.90,106.76 388.65,104.23 389.40,101.68 390.15,99.15 390.90,96.64 391.65,94.17 392.40,91.77 393.15,89.45 393.90,87.22 394.65,85.10 395.40,83.08 396.15,81.14 396.90,79.29 397.65,77.48 398.40,75.69 399.15,73.89 399.90,72.05 400.65,70.14 401.40,68.15 402.15,66.07 402.90,63.89 403.65,61.63 404.40,59.32 405.15,56.98 405.90,54.65 406.65,52.36 407.40,50.15 408.15,48.04 408.90,46.06 409.65,44.21 410.40,42.50 411.15,40.91 411.90,39.44 412.65,38.07 413.40,36.76 414.15,35.52 414.90,34.31 415.65,33.15 416.40,32.02 417.15,30.95 417.90,29.94 418.65,29.03 419.40,28.24 420.15,27.58 420.90,27.09 421.65,26.77 422.40,26.62 423.15,26.63 423.90,26.78 424.65,27.03 425.40,27.34 426.15,27.66 426.90,27.96 427.65,28.20 428.40,28.34 429.15,28.37 429.90,28.28 430.65,28.08 431.40,27.80 432.15,27.46 432.90,27.11 433.65,26.79 434.40,26.55 435.15,26.42 435.90,26.44 436.65,26.63 437.40,26.99 438.15,27.53 438.90,28.23 439.65,29.07 440.40,30.04 441.15,31.11 441.90,32.25 442.65,33.45 443.40,34.70 444.15,35.99 444.90,37.33 445.65,38.74 446.40,40.22 447.15,41.78 447.90,43.46 448.65,45.24 449.40,47.15 450.15,49.17 450.90,51.30 451.65,53.51 452.40,55.78 453.15,58.09 453.90,60.41 454.65,62.70 455.40,64.96 456.15,67.15 456.90,69.29 457.65,71.36 458.40,73.37 459.15,75.35 459.90,77.30 460.65,79.26 461.40,81.23 462.15,83.23 462.90,85.29 463.65,87.40 464.40,89.57 465.15,91.79 465.90,94.07 466.65,96.39 467.40,98.74 468.15,101.11 468.90,103.51 469.65,105.92 470.40,108.35 471.15,110.79 471.90,113.26 472.65,115.75 473.40,118.25 474.15,120.78 474.90,123.32 475.65,125.87 476.40,128.39 477.15,130.89 477.90,133.33 478.65,135.70 479.40,137.98 480.15,140.17 480.90,142.25 481.65,144.23 482.40,146.13 483.15,147.96 483.90,149.76 484.65,151.55 485.40,153.36 486.15,155.22 486.90,157.16 487.65,159.20 488.40,161.32 489.15,163.53 489.90,165.82 490.65,168.14 491.40,170.48 492.15,172.80 492.90,175.06 493.65,177.24 494.40,179.29 495.15,181.22 495.90,183.01 496.65,184.67 497.40,186.20 498.15,187.63 498.90,188.98 499.65,190.25 500.40,191.48 501.15,192.67 501.90,193.82 502.65,194.92 503.40,195.97 504.15,196.94 504.90,197.81 505.65,198.54 506.40,199.13 507.15,199.55 507.90,199.80 508.65,199.88 509.40,199.81 510.15,199.62 510.90,199.34 511.65,199.02 512.40,198.70 513.15,198.42 513.90,198.22 514.65,198.12 515.40,198.14 516.15,198.28 516.90,198.52 517.65,198.83 518.40,199.18 519.15,199.52 519.90,199.81 520.65,200.01 521.40,200.08 522.15,199.99 522.90,199.73 523.65,199.30 524.40,198.69 525.15,197.92 525.90,197.02 526.65,196.01 527.40,194.91 528.15,193.74 528.90,192.52 529.65,191.26 530.40,189.94 531.15,188.58 531.90,187.14 532.65,185.63 533.40,184.02 534.15,182.30 534.90,180.46 535.65,178.51 536.40,176.44 537.15,174.27 537.90,172.03 538.65,169.74 539.40,167.43 540.15,165.12 540.90,162.84 541.65,160.61 542.40,158.44 543.15,156.33 543.90,154.28 544.65,152.29" stroke="#2828e0" stroke-width="1.05"/>
<polyline points="26.40,159.77 27.15,157.63 27.90,155.55 28.65,153.53 29.40,151.55 30.15,149.60 30.90,147.65 31.65,145.68 32.40,143.67 33.15,141.63 33.90,139.52 34.65,137.36 35.40,135.14 36.15,132.86 36.90,130.55 37.65,128.20 38.40,125.83 39.15,123.43 39.90,121.02 40.65,118.59 41.40,116.15 42.15,113.69 42.90,111.20 43.65,108.70 44.40,106.17 45.15,103.63 45.90,101.09 46.65,98.56 47.40,96.06 48.15,93.61 48.90,91.23 49.65,88.94 50.40,86.75 51.15,84.66 51.90,82.67 52.65,80.77 53.40,78.93 54.15,77.13 54.90,75.34 55.65,73.53 56.40,71.67 57.15,69.74 57.90,67.72 58.65,65.60 59.40,63.40 60.15,61.12 60.90,58.79 61.65,56.45 62.40,54.13 63.15,51.86 63.90,49.68 64.65,47.61 65.40,45.67 66.15,43.87 66.90,42.20 67.65,40.66 68.40,39.22 69.15,37.87 69.90,36.59 70.65,35.36 71.40,34.17 72.15,33.01 72.90,31.90 73.65,30.85 74.40,29.87 75.15,28.99 75.90,28.24 76.65,27.64 77.40,27.21 78.15,26.95 78.90,26.85 79.65,26.91 80.40,27.09 81.15,27.36 81.90,27.68 82.65,28.01 83.40,28.29 84.15,28.50 84.90,28.60 85.65,28.59 86.40,28.47 87.15,28.24 87.90,27.93 88.65,27.58 89.40,27.24 90.15,26.94 90.90,26.73 91.65,26.65 92.40,26.72 93.15,26.97 93.90,27.39 94.65,27.98 95.40,28.73 96.15,29.62 96.90,30.62 97.65,31.72 98.40,32.88 99.15,34.10 99.90,35.36 100.65,36.67 101.40,38.03 102.15,39.46 102.90,40.96 103.65,42.56 104.40,44.27 105.15,46.10 105.90,48.04 106.65,50.10 107.40,52.26 108.15,54.49 108.90,56.78 109.65,59.10 110.40,61.41 111.15,63.69 111.90,65.93 112.65,68.10 113.40,70.21 114.15,72.27 114.90,74.27 115.65,76.23 116.40,78.19 117.15,80.14 117.90,82.12 118.65,84.14 119.40,86.22 120.15,88.35 120.90,90.53 121.65,92.78 122.40,95.07 123.15,97.40 123.90,99.76 124.65,102.14 125.40,104.54 126.15,106.96 126.90,109.39 127.65,111.84 128.40,114.31 129.15,116.81 129.90,119.32 130.65,121.86 131.40,124.40 132.15,126.94 132.90,129.46 133.65,131.94 134.40,134.36 135.15,136.70 135.90,138.95 136.65,141.10 137.40,143.15 138.15,145.10 138.90,146.98 139.65,148.79 140.40,150.58 141.15,152.38 141.90,154.21 142.65,156.09 143.40,158.06 144.15,160.12 144.90,162.28 145.65,164.52 146.40,166.82 147.15,169.15 147.90,171.49 148.65,173.79 149.40,176.03 150.15,178.17 150.90,180.18 151.65,182.07 152.40,183.81 153.15,185.43 153.90,186.92 154.65,188.32 155.40,189.64 156.15,190.90 156.90,192.11 157.65,193.29 158.40,194.43 159.15,195.52 159.90,196.54 160.65,197.48 161.40,198.30 162.15,198.99 162.90,199.53 163.65,199.89 164.40,200.08 165.15,200.11 165.90,200.00 166.65,199.77 167.40,199.47 168.15,199.15 168.90,198.84 169.65,198.58 170.40,198.41 171.15,198.36 171.90,198.42 172.65,198.59 173.40,198.85 174.15,199.18 174.90,199.53 175.65,199.86 176.40,200.13 177.15,200.29 177.90,200.31 178.65,200.17 179.40,199.85 180.15,199.35 180.90,198.69 181.65,197.88 182.40,196.94 183.15,195.90 183.90,194.77 184.65,193.59 185.40,192.35 186.15,191.07 186.90,189.74 187.65,188.35 188.40,186.90 189.15,185.35 189.90,183.71 190.65,181.95 191.40,180.07 192.15,178.08 192.90,175.98 193.65,173.78 194.40,171.52 195.15,169.22 195.90,166.91 196.65,164.60 197.40,162.34 198.15,160.13 198.90,157.98 199.65,155.89 200.40,153.86 201.15,151.88 201.90,149.92 202.65,147.97 203.40,146.00 204.15,144.01 204.90,141.97 205.65,139.87 206.40,137.72 207.15,135.50 207.90,133.24 208.65,130.93 209.40,128.59 210.15,126.22 210.90,123.83 211.65,121.42 212.40,119.00 213.15,116.55 213.90,114.10 214.65,111.61 215.40,109.11 216.15,106.59 216.90,104.05 217.65,101.51 218.40,98.97 219.15,96.47 219.90,94.01 220.65,91.62 221.40,89.31 222.15,87.10 222.90,85.00 223.65,82.99 224.40,81.07 225.15,79.23 225.90,77.43 226.65,75.64 227.40,73.83 228.15,71.98 228.90,70.06 229.65,68.06 230.40,65.95 231.15,63.76 231.90,61.50 232.65,59.18 233.40,56.84 234.15,54.51 234.90,52.23 235.65,50.03 236.40,47.94 237.15,45.98 237.90,44.16 238.65,42.47 239.40,40.90 240.15,39.45 240.90,38.09 241.65,36.79 242.40,35.56 243.15,34.36 243.90,33.20 244.65,32.08 245.40,31.02 246.15,30.02 246.90,29.13 247.65,28.36 248.40,27.73 249.15,27.27 249.90,26.98 250.65,26.86 251.40,26.89 252.15,27.05 252.90,27.31 253.65,27.63 254.40,27.95 255.15,28.25 255.90,28.47 256.65,28.59 257.40,28.60 258.15,28.49 258.90,28.28 259.65,27.98 260.40,27.64 261.15,27.29 261.90,26.99 262.65,26.76 263.40,26.65 264.15,26.70 264.90,26.91 265.65,27.31 266.40,27.87 267.15,28.60 267.90,29.47 268.65,30.45 269.40,31.53 270.15,32.68 270.90,33.89 271.65,35.15 272.40,36.45 273.15,37.80 273.90,39.22 274.65,40.71 275.40,42.29 276.15,43.98 276.90,45.79 277.65,47.72 278.40,49.76 279.15,51.90 279.90,54.12 280.65,56.40 281.40,58.71 282.15,61.03 282.90,63.32 283.65,65.56 284.40,67.75 285.15,69.87 285.90,71.93 286.65,73.94 287.40,75.91 288.15,77.86 288.90,79.82 289.65,81.79 290.40,83.81 291.15,85.87 291.90,87.99 292.65,90.17 293.40,92.40 294.15,94.69 294.90,97.01 295.65,99.37 296.40,101.75 297.15,104.15 297.90,106.56 298.65,108.99 299.40,111.44 300.15,113.91 300.90,116.40 301.65,118.91 302.40,121.44 303.15,123.98 303.90,126.52 304.65,129.05 305.40,131.54 306.15,133.97 306.90,136.32 307.65,138.59 308.40,140.76 309.15,142.82 309.90,144.79 310.65,146.67 311.40,148.50 312.15,150.29 312.90,152.08 313.65,153.90 314.40,155.78 315.15,157.73 315.90,159.78 316.65,161.92 317.40,164.14 318.15,166.44 318.90,168.77 319.65,171.11 320.40,173.42 321.15,175.67 321.90,177.82 322.65,179.86 323.40,181.77 324.15,183.53 324.90,185.17 325.65,186.69 326.40,188.10 327.15,189.43 327.90,190.70 328.65,191.92 329.40,193.10 330.15,194.24 330.90,195.34 331.65,196.38 332.40,197.33 333.15,198.18 333.90,198.89 334.65,199.45 335.40,199.84 336.15,200.06 336.90,200.12 337.65,200.02 338.40,199.81 339.15,199.53 339.90,199.20 340.65,198.89 341.40,198.62 342.15,198.43 342.90,198.36 343.65,198.40 344.40,198.55 345.15,198.80 345.90,199.12 346.65,199.47 347.40,199.81 348.15,200.09 348.90,200.27 349.65,200.31 350.40,200.20 351.15,199.91 351.90,199.45 352.65,198.81 353.40,198.02 354.15,197.10 354.90,196.08 355.65,194.96 356.40,193.79 357.15,192.56 357.90,191.28 358.65,189.96 359.40,188.58 360.15,187.14 360.90,185.61 361.65,183.98 362.40,182.25 363.15,180.39 363.90,178.41 364.65,176.33 365.40,174.15 366.15,171.90 366.90,169.60 367.65,167.29 368.40,164.98 369.15,162.71 369.90,160.49 370.65,158.33 371.40,156.23 372.15,154.19 372.90,152.20 373.65,150.24 374.40,148.29 375.15,146.33 375.90,144.34 376.65,142.31 377.40,140.22 378.15,138.07 378.90,135.87 379.65,133.62 380.40,131.32 381.15,128.98 381.90,126.61 382.65,124.22 383.40,121.82 384.15,119.39 384.90,116.96 385.65,114.50 386.40,112.02 387.15,109.52 387.90,107.00 388.65,104.47 389.40,101.92 390.15,99.39 390.90,96.88 391.65,94.41 392.40,92.01 393.15,89.69 393.90,87.46 394.65,85.34 395.40,83.32 396.15,81.38 396.90,79.53 397.65,77.72 398.40,75.93 399.15,74.13 399.90,72.29 400.65,70.38 401.40,68.39 402.15,66.31 402.90,64.13 403.65,61.87 404.40,59.56 405.15,57.22 405.90,54.89 406.65,52.60 407.40,50.39 408.15,48.28 408.90,46.30 409.65,44.45 410.40,42.74 411.15,41.15 411.90,39.68 412.65,38.31 413.40,37.00 414.15,35.76 414.90,34.55 415.65,33.39 416.40,32.26 417.15,31.19 417.90,30.18 418.65,29.27 419.40,28.48 420.15,27.82 420.90,27.33 421.65,27.01 422.40,26.86 423.15,26.87 423.90,27.02 424.65,27.27 425.40,27.58 426.15,27.90 426.90,28.20 427.65,28.44 428.40,28.58 429.15,28.61 429.90,28.52 430.65,28.32 431.40,28.04 432.15,27.70 432.90,27.35 433.65,27.03 434.40,26.79 435.15,26.66 435.90,26.68 436.65,26.87 437.40,27.23 438.15,27.77 438.90,28.47 439.65,29.31 440.40,30.28 441.15,31.35 441.90,32.49 442.65,33.69 443.40,34.94 444.15,36.23 444.90,37.57 445.65,38.98 446.40,40.46 447.15,42.02 447.90,43.70 448.65,45.48 449.40,47.39 450.15,49.41 450.90,51.54 451.65,53.75 452.40,56.02 453.15,58.33 453.90,60.65 454.65,62.94 455.40,65.20 456.15,67.39 456.90,69.53 457.65,71.60 458.40,73.61 459.15,75.59 459.90,77.54 460.65,79.50 461.40,81.47 462.15,83.47 462.90,85.53 463.65,87.64 464.40,89.81 465.15,92.03 465.90,94.31 466.65,96.63 467.40,98.98 468.15,101.35 468.90,103.75 469.65,106.16 470.40,108.59 471.15,111.03 471.90,113.50 472.65,115.99 473.40,118.49 474.15,121.02 474.90,123.56 475.65,126.11 476.40,128.63 477.15,131.13 477.90,133.57 478.65,135.94 479.40,138.22 480.15,140.41 480.90,142.49 481.65,144.47 482.40,146.37 483.15,148.20 483.90,150.00 484.65,151.79 485.40,153.60 486.15,155.46 486.90,157.40 487.65,159.44 488.40,161.56 489.15,163.77 489.90,166.06 490.65,168.38 491.40,170.72 492.15,173.04 492.90,175.30 493.65,177.48 494.40,179.53 495.15,181.46 495.90,183.25 496.65,184.91 497.40,186.44 498.15,187.87 498.90,189.22 499.65,190.49 500.40,191.72 501.15,192.91 501.90,194.06 502.65,195.16 503.40,196.21 504.15,197.18 504.90,198.05 505.65,198.78 506.40,199.37 507.15,199.79 507.90,200.04 508.65,200.12 509.40,200.05 510.15,199.86 510.90,199.58 511.65,199.26 512.40,198.94 513.15,198.66 513.90,198.46 514.65,198.36 515.40,198.38 516.15,198.52 516.90,198.76 517.65,199.07 518.40,199.42 519.15,199.76 519.90,200.05 520.65,200.25 521.40,200.32 522.15,200.23 522.90,199.97 523.65,199.54 524.40,198.93 525.15,198.16 525.90,197.26 526.65,196.25 527.40,195.15 528.15,193.98 528.90,192.76 529.65,191.50 530.40,190.18 531.15,188.82 531.90,187.38 532.65,185.87 533.40,184.26 534.15,182.54 534.90,180.70 535.65,178.75 536.40,176.68 537.15,174.51 537.90,172.27 538.65,169.98 539.40,167.67 540.15,165.36 540.90,163.08 541.65,160.85 542.40,158.68 543.15,156.57 543.90,154.52 544.65,152.53" stroke="#2c9e40" stroke-width="1.25" stroke-opacity="0.95"/>
</g>
<line x1="49.90" y1="220.5" x2="49.90" y2="215.5" stroke="#8c8c8c" stroke-width="1"/>
<line x1="49.90" y1="5.5" x2="49.90" y2="10.5" stroke="#8c8c8c" stroke-width="1"/>
<line x1="101.42" y1="220.5" x2="101.42" y2="215.5" stroke="#8c8c8c" stroke-width="1"/>
<line x1="101.42" y1="5.5" x2="101.42" y2="10.5" stroke="#8c8c8c" stroke-width="1"/>
<line x1="152.94" y1="220.5" x2="152.94" y2="215.5" stroke="#8c8c8c" stroke-width="1"/>
<line x1="152.94" y1="5.5" x2="152.94" y2="10.5" stroke="#8c8c8c" stroke-width="1"/>
<line x1="204.46" y1="220.5" x2="204.46" y2="215.5" stroke="#8c8c8c" stroke-width="1"/>
<line x1="204.46" y1="5.5" x2="204.46" y2="10.5" stroke="#8c8c8c" stroke-width="1"/>
<line x1="255.98" y1="220.5" x2="255.98" y2="215.5" stroke="#8c8c8c" stroke-width="1"/>
<line x1="255.98" y1="5.5" x2="255.98" y2="10.5" stroke="#8c8c8c" stroke-width="1"/>
<line x1="307.50" y1="220.5" x2="307.50" y2="215.5" stroke="#8c8c8c" stroke-width="1"/>
<line x1="307.50" y1="5.5" x2="307.50" y2="10.5" stroke="#8c8c8c" stroke-width="1"/>
<line x1="359.02" y1="220.5" x2="359.02" y2="215.5" stroke="#8c8c8c" stroke-width="1"/>
<line x1="359.02" y1="5.5" x2="359.02" y2="10.5" stroke="#8c8c8c" stroke-width="1"/>
<line x1="410.54" y1="220.5" x2="410.54" y2="215.5" stroke="#8c8c8c" stroke-width="1"/>
<line x1="410.54" y1="5.5" x2="410.54" y2="10.5" stroke="#8c8c8c" stroke-width="1"/>
<line x1="462.06" y1="220.5" x2="462.06" y2="215.5" stroke="#8c8c8c" stroke-width="1"/>
<line x1="462.06" y1="5.5" x2="462.06" y2="10.5" stroke="#8c8c8c" stroke-width="1"/>
<line x1="513.58" y1="220.5" x2="513.58" y2="215.5" stroke="#8c8c8c" stroke-width="1"/>
<line x1="513.58" y1="5.5" x2="513.58" y2="10.5" stroke="#8c8c8c" stroke-width="1"/>
<line x1="27.4" y1="187.51" x2="32.4" y2="187.51" stroke="#8c8c8c" stroke-width="1"/>
<line x1="544.3" y1="187.51" x2="539.3" y2="187.51" stroke="#8c8c8c" stroke-width="1"/>
<line x1="27.4" y1="150.34" x2="32.4" y2="150.34" stroke="#8c8c8c" stroke-width="1"/>
<line x1="544.3" y1="150.34" x2="539.3" y2="150.34" stroke="#8c8c8c" stroke-width="1"/>
<line x1="27.4" y1="113.16" x2="32.4" y2="113.16" stroke="#8c8c8c" stroke-width="1"/>
<line x1="544.3" y1="113.16" x2="539.3" y2="113.16" stroke="#8c8c8c" stroke-width="1"/>
<line x1="27.4" y1="75.98" x2="32.4" y2="75.98" stroke="#8c8c8c" stroke-width="1"/>
<line x1="544.3" y1="75.98" x2="539.3" y2="75.98" stroke="#8c8c8c" stroke-width="1"/>
<line x1="27.4" y1="38.81" x2="32.4" y2="38.81" stroke="#8c8c8c" stroke-width="1"/>
<line x1="544.3" y1="38.81" x2="539.3" y2="38.81" stroke="#8c8c8c" stroke-width="1"/>
<rect x="27.4" y="5.5" width="516.90" height="215.00" fill="none" stroke="#707070" stroke-width="1.3"/>
<text x="49.90" y="229.00" font-family="Liberation Sans, sans-serif" font-size="7" text-anchor="middle" stroke="#262626" stroke-width="0.12" stroke-linejoin="round" fill="#262626">0.085</text>
<text x="101.42" y="229.00" font-family="Liberation Sans, sans-serif" font-size="7" text-anchor="middle" stroke="#262626" stroke-width="0.12" stroke-linejoin="round" fill="#262626">0.09</text>
<text x="152.94" y="229.00" font-family="Liberation Sans, sans-serif" font-size="7" text-anchor="middle" stroke="#262626" stroke-width="0.12" stroke-linejoin="round" fill="#262626">0.095</text>
<text x="204.46" y="229.00" font-family="Liberation Sans, sans-serif" font-size="7" text-anchor="middle" stroke="#262626" stroke-width="0.12" stroke-linejoin="round" fill="#262626">0.1</text>
<text x="255.98" y="229.00" font-family="Liberation Sans, sans-serif" font-size="7" text-anchor="middle" stroke="#262626" stroke-width="0.12" stroke-linejoin="round" fill="#262626">0.105</text>
<text x="307.50" y="229.00" font-family="Liberation Sans, sans-serif" font-size="7" text-anchor="middle" stroke="#262626" stroke-width="0.12" stroke-linejoin="round" fill="#262626">0.11</text>
<text x="359.02" y="229.00" font-family="Liberation Sans, sans-serif" font-size="7" text-anchor="middle" stroke="#262626" stroke-width="0.12" stroke-linejoin="round" fill="#262626">0.115</text>
<text x="410.54" y="229.00" font-family="Liberation Sans, sans-serif" font-size="7" text-anchor="middle" stroke="#262626" stroke-width="0.12" stroke-linejoin="round" fill="#262626">0.12</text>
<text x="462.06" y="229.00" font-family="Liberation Sans, sans-serif" font-size="7" text-anchor="middle" stroke="#262626" stroke-width="0.12" stroke-linejoin="round" fill="#262626">0.125</text>
<text x="513.58" y="229.00" font-family="Liberation Sans, sans-serif" font-size="7" text-anchor="middle" stroke="#262626" stroke-width="0.12" stroke-linejoin="round" fill="#262626">0.13</text>
<text x="26.00" y="190.21" font-family="Liberation Sans, sans-serif" font-size="7" text-anchor="end" stroke="#262626" stroke-width="0.12" stroke-linejoin="round" fill="#262626">-100</text>
<text x="26.00" y="153.03" font-family="Liberation Sans, sans-serif" font-size="7" text-anchor="end" stroke="#262626" stroke-width="0.12" stroke-linejoin="round" fill="#262626">-50</text>
<text x="26.00" y="115.86" font-family="Liberation Sans, sans-serif" font-size="7" text-anchor="end" stroke="#262626" stroke-width="0.12" stroke-linejoin="round" fill="#262626">0</text>
<text x="26.00" y="78.68" font-family="Liberation Sans, sans-serif" font-size="7" text-anchor="end" stroke="#262626" stroke-width="0.12" stroke-linejoin="round" fill="#262626">50</text>
<text x="26.00" y="41.51" font-family="Liberation Sans, sans-serif" font-size="7" text-anchor="end" stroke="#262626" stroke-width="0.12" stroke-linejoin="round" fill="#262626">100</text>
<g style="mix-blend-mode:multiply">
<line x1="41.40" y1="278.5" x2="41.40" y2="492.9" stroke="#b8b8b8" stroke-width="1.1" style="mix-blend-mode:multiply"/>
<line x1="92.42" y1="278.5" x2="92.42" y2="492.9" stroke="#b8b8b8" stroke-width="1.1" style="mix-blend-mode:multiply"/>
<line x1="143.44" y1="278.5" x2="143.44" y2="492.9" stroke="#b8b8b8" stroke-width="1.1" style="mix-blend-mode:multiply"/>
<line x1="194.46" y1="278.5" x2="194.46" y2="492.9" stroke="#b8b8b8" stroke-width="1.1" style="mix-blend-mode:multiply"/>
<line x1="245.48" y1="278.5" x2="245.48" y2="492.9" stroke="#b8b8b8" stroke-width="1.1" style="mix-blend-mode:multiply"/>
<line x1="296.50" y1="278.5" x2="296.50" y2="492.9" stroke="#b8b8b8" stroke-width="1.1" style="mix-blend-mode:multiply"/>
<line x1="347.52" y1="278.5" x2="347.52" y2="492.9" stroke="#b8b8b8" stroke-width="1.1" style="mix-blend-mode:multiply"/>
<line x1="398.54" y1="278.5" x2="398.54" y2="492.9" stroke="#b8b8b8" stroke-width="1.1" style="mix-blend-mode:multiply"/>
<line x1="449.56" y1="278.5" x2="449.56" y2="492.9" stroke="#b8b8b8" stroke-width="1.1" style="mix-blend-mode:multiply"/>
<line x1="500.58" y1="278.5" x2="500.58" y2="492.9" stroke="#b8b8b8" stroke-width="1.1" style="mix-blend-mode:multiply"/>
<line x1="26.4" y1="480.40" x2="544.4" y2="480.40" stroke="#b8b8b8" stroke-width="1.1" style="mix-blend-mode:multiply"/>
<line x1="26.4" y1="438.70" x2="544.4" y2="438.70" stroke="#b8b8b8" stroke-width="1.1" style="mix-blend-mode:multiply"/>
<line x1="26.4" y1="397.00" x2="544.4" y2="397.00" stroke="#b8b8b8" stroke-width="1.1" style="mix-blend-mode:multiply"/>
<line x1="26.4" y1="355.30" x2="544.4" y2="355.30" stroke="#b8b8b8" stroke-width="1.1" style="mix-blend-mode:multiply"/>
<line x1="26.4" y1="313.60" x2="544.4" y2="313.60" stroke="#b8b8b8" stroke-width="1.1" style="mix-blend-mode:multiply"/>
</g>
<clipPath id="cb"><rect x="26.4" y="278.5" width="518.00" height="214.40"/></clipPath>
<g clip-path="url(#cb)" fill="none" stroke-linejoin="round">
<polyline points="25.40,427.61 26.15,427.15 26.90,426.68 27.65,426.21 28.40,425.73 29.15,425.26 29.90,424.78 30.65,424.30 31.40,423.81 32.15,423.33 32.90,422.84 33.65,422.35 34.40,421.85 35.15,421.36 35.90,420.86 36.65,420.36 37.40,419.86 38.15,419.35 38.90,418.85 39.65,418.34 40.40,417.83 41.15,417.33 41.90,416.81 42.65,416.30 43.40,415.79 44.15,415.28 44.90,414.76 45.65,414.25 46.40,413.73 47.15,413.21 47.90,412.70 48.65,412.18 49.40,411.66 50.15,411.14 50.90,410.62 51.65,410.10 52.40,409.59 53.15,409.07 53.90,408.55 54.65,408.03 55.40,407.51 56.15,406.99 56.90,406.47 57.65,405.95 58.40,405.44 59.15,404.92 59.90,404.40 60.65,403.88 61.40,403.36 62.15,402.84 62.90,402.32 63.65,401.80 64.40,401.28 65.15,400.76 65.90,400.24 66.65,399.71 67.40,399.19 68.15,398.67 68.90,398.14 69.65,397.62 70.40,397.09 71.15,396.56 71.90,396.04 72.65,395.51 73.40,394.98 74.15,394.44 74.90,393.91 75.65,393.38 76.40,392.84 77.15,392.30 77.90,391.77 78.65,391.22 79.40,390.68 80.15,390.14 80.90,389.60 81.65,389.05 82.40,388.50 83.15,387.95 83.90,387.40 84.65,386.85 85.40,386.30 86.15,385.75 86.90,385.19 87.65,384.64 88.40,384.08 89.15,383.53 89.90,382.97 90.65,382.42 91.40,381.86 92.15,381.30 92.90,380.75 93.65,380.19 94.40,379.63 95.15,379.08 95.90,378.53 96.65,377.97 97.40,377.42 98.15,376.87 98.90,376.33 99.65,375.78 100.40,375.24 101.15,374.70 101.90,374.16 102.65,373.62 103.40,373.09 104.15,372.56 104.90,372.03 105.65,371.51 106.40,370.99 107.15,370.47 107.90,369.96 108.65,369.45 109.40,368.95 110.15,368.45 110.90,367.95 111.65,367.46 112.40,366.97 113.15,366.49 113.90,366.01 114.65,365.54 115.40,365.07 116.15,364.60 116.90,364.14 117.65,363.68 118.40,363.23 119.15,362.78 119.90,362.33 120.65,361.89 121.40,361.45 122.15,361.02 122.90,360.59 123.65,360.16 124.40,359.73 125.15,359.31 125.90,358.89 126.65,358.47 127.40,358.05 128.15,357.64 128.90,357.22 129.65,356.81 130.40,356.40 131.15,355.98 131.90,355.57 132.65,355.16 133.40,354.74 134.15,354.33 134.90,353.92 135.65,353.50 136.40,353.08 137.15,352.66 137.90,352.24 138.65,351.81 139.40,351.39 140.15,350.96 140.90,350.52 141.65,350.08 142.40,349.64 143.15,349.20 143.90,348.75 144.65,348.30 145.40,347.84 146.15,347.38 146.90,346.91 147.65,346.44 148.40,345.96 149.15,345.48 149.90,344.99 150.65,344.50 151.40,344.01 152.15,343.51 152.90,343.00 153.65,342.49 154.40,341.98 155.15,341.46 155.90,340.94 156.65,340.41 157.40,339.88 158.15,339.34 158.90,338.81 159.65,338.27 160.40,337.72 161.15,337.18 161.90,336.63 162.65,336.08 163.40,335.53 164.15,334.97 164.90,334.42 165.65,333.86 166.40,333.31 167.15,332.75 167.90,332.20 168.65,331.65 169.40,331.09 170.15,330.54 170.90,329.99 171.65,329.45 172.40,328.90 173.15,328.36 173.90,327.83 174.65,327.29 175.40,326.77 176.15,326.24 176.90,325.72 177.65,325.21 178.40,324.70 179.15,324.20 179.90,323.70 180.65,323.21 181.40,322.72 182.15,322.25 182.90,321.77 183.65,321.31 184.40,320.85 185.15,320.40 185.90,319.96 186.65,319.53 187.40,319.10 188.15,318.68 188.90,318.27 189.65,317.87 190.40,317.47 191.15,317.08 191.90,316.70 192.65,316.33 193.40,315.96 194.15,315.60 194.90,315.25 195.65,314.91 196.40,314.57 197.15,314.24 197.90,313.92 198.65,313.60 199.40,313.29 200.15,312.98 200.90,312.69 201.65,312.39 202.40,312.11 203.15,311.82 203.90,311.55 204.65,311.27 205.40,311.01 206.15,310.74 206.90,310.49 207.65,310.23 208.40,309.98 209.15,309.74 209.90,309.49 210.65,309.25 211.40,309.02 212.15,308.78 212.90,308.55 213.65,308.32 214.40,308.10 215.15,307.88 215.90,307.65 216.65,307.44 217.40,307.22 218.15,307.01 218.90,306.80 219.65,306.59 220.40,306.38 221.15,306.18 221.90,305.98 222.65,305.78 223.40,305.58 224.15,305.38 224.90,305.19 225.65,305.00 226.40,304.82 227.15,304.63 227.90,304.45 228.65,304.27 229.40,304.10 230.15,303.93 230.90,303.76 231.65,303.60 232.40,303.44 233.15,303.29 233.90,303.14 234.65,302.99 235.40,302.85 236.15,302.71 236.90,302.58 237.65,302.46 238.40,302.34 239.15,302.22 239.90,302.12 240.65,302.01 241.40,301.92 242.15,301.83 242.90,301.74 243.65,301.67 244.40,301.59 245.15,301.53 245.90,301.47 246.65,301.42 247.40,301.38 248.15,301.34 248.90,301.31 249.65,301.28 250.40,301.26 251.15,301.25 251.90,301.25 252.65,301.25 253.40,301.25 254.15,301.27 254.90,301.29 255.65,301.31 256.40,301.34 257.15,301.37 257.90,301.41 258.65,301.45 259.40,301.50 260.15,301.55 260.90,301.61 261.65,301.67 262.40,301.73 263.15,301.79 263.90,301.86 264.65,301.93 265.40,302.00 266.15,302.07 266.90,302.14 267.65,302.21 268.40,302.29 269.15,302.36 269.90,302.43 270.65,302.50 271.40,302.57 272.15,302.63 272.90,302.70 273.65,302.76 274.40,302.82 275.15,302.88 275.90,302.93 276.65,302.98 277.40,303.02 278.15,303.06 278.90,303.10 279.65,303.13 280.40,303.16 281.15,303.18 281.90,303.19 282.65,303.20 283.40,303.21 284.15,303.21 284.90,303.20 285.65,303.19 286.40,303.17 287.15,303.15 287.90,303.12 288.65,303.09 289.40,303.05 290.15,303.01 290.90,302.96 291.65,302.90 292.40,302.84 293.15,302.78 293.90,302.71 294.65,302.64 295.40,302.56 296.15,302.48 296.90,302.39 297.65,302.31 298.40,302.22 299.15,302.13 299.90,302.03 300.65,301.94 301.40,301.84 302.15,301.75 302.90,301.65 303.65,301.55 304.40,301.45 305.15,301.36 305.90,301.26 306.65,301.17 307.40,301.08 308.15,300.99 308.90,300.90 309.65,300.82 310.40,300.74 311.15,300.66 311.90,300.59 312.65,300.52 313.40,300.46 314.15,300.40 314.90,300.35 315.65,300.31 316.40,300.27 317.15,300.23 317.90,300.21 318.65,300.19 319.40,300.18 320.15,300.17 320.90,300.18 321.65,300.19 322.40,300.20 323.15,300.23 323.90,300.26 324.65,300.31 325.40,300.36 326.15,300.41 326.90,300.48 327.65,300.56 328.40,300.64 329.15,300.73 329.90,300.83 330.65,300.94 331.40,301.05 332.15,301.17 332.90,301.31 333.65,301.44 334.40,301.59 335.15,301.74 335.90,301.91 336.65,302.07 337.40,302.25 338.15,302.43 338.90,302.62 339.65,302.82 340.40,303.02 341.15,303.23 341.90,303.44 342.65,303.66 343.40,303.89 344.15,304.12 344.90,304.36 345.65,304.60 346.40,304.85 347.15,305.10 347.90,305.36 348.65,305.62 349.40,305.89 350.15,306.16 350.90,306.44 351.65,306.72 352.40,307.01 353.15,307.30 353.90,307.59 354.65,307.89 355.40,308.19 356.15,308.49 356.90,308.80 357.65,309.12 358.40,309.44 359.15,309.76 359.90,310.08 360.65,310.41 361.40,310.75 362.15,311.08 362.90,311.43 363.65,311.77 364.40,312.12 365.15,312.48 365.90,312.83 366.65,313.20 367.40,313.56 368.15,313.94 368.90,314.31 369.65,314.69 370.40,315.08 371.15,315.47 371.90,315.86 372.65,316.26 373.40,316.66 374.15,317.07 374.90,317.49 375.65,317.91 376.40,318.33 377.15,318.76 377.90,319.19 378.65,319.63 379.40,320.07 380.15,320.52 380.90,320.97 381.65,321.43 382.40,321.89 383.15,322.36 383.90,322.83 384.65,323.30 385.40,323.78 386.15,324.26 386.90,324.75 387.65,325.24 388.40,325.74 389.15,326.24 389.90,326.74 390.65,327.24 391.40,327.75 392.15,328.26 392.90,328.77 393.65,329.29 394.40,329.81 395.15,330.33 395.90,330.85 396.65,331.37 397.40,331.90 398.15,332.42 398.90,332.95 399.65,333.47 400.40,334.00 401.15,334.53 401.90,335.05 402.65,335.58 403.40,336.11 404.15,336.63 404.90,337.15 405.65,337.68 406.40,338.20 407.15,338.71 407.90,339.23 408.65,339.75 409.40,340.26 410.15,340.77 410.90,341.28 411.65,341.78 412.40,342.28 413.15,342.78 413.90,343.28 414.65,343.77 415.40,344.26 416.15,344.75 416.90,345.23 417.65,345.71 418.40,346.19 419.15,346.67 419.90,347.14 420.65,347.61 421.40,348.07 422.15,348.53 422.90,348.99 423.65,349.45 424.40,349.90 425.15,350.35 425.90,350.80 426.65,351.25 427.40,351.69 428.15,352.14 428.90,352.58 429.65,353.01 430.40,353.45 431.15,353.89 431.90,354.32 432.65,354.76 433.40,355.19 434.15,355.62 434.90,356.05 435.65,356.49 436.40,356.92 437.15,357.35 437.90,357.78 438.65,358.22 439.40,358.65 440.15,359.09 440.90,359.52 441.65,359.96 442.40,360.40 443.15,360.84 443.90,361.28 444.65,361.73 445.40,362.17 446.15,362.62 446.90,363.07 447.65,363.52 448.40,363.98 449.15,364.44 449.90,364.90 450.65,365.36 451.40,365.83 452.15,366.29 452.90,366.76 453.65,367.24 454.40,367.71 455.15,368.19 455.90,368.67 456.65,369.15 457.40,369.64 458.15,370.13 458.90,370.62 459.65,371.11 460.40,371.61 461.15,372.10 461.90,372.60 462.65,373.10 463.40,373.61 464.15,374.11 464.90,374.62 465.65,375.12 466.40,375.63 467.15,376.14 467.90,376.65 468.65,377.17 469.40,377.68 470.15,378.20 470.90,378.71 471.65,379.23 472.40,379.74 473.15,380.26 473.90,380.78 474.65,381.30 475.40,381.81 476.15,382.33 476.90,382.85 477.65,383.37 478.40,383.89 479.15,384.41 479.90,384.93 480.65,385.44 481.40,385.96 482.15,386.48 482.90,387.00 483.65,387.52 484.40,388.04 485.15,388.56 485.90,389.08 486.65,389.60 487.40,390.12 488.15,390.63 488.90,391.15 489.65,391.68 490.40,392.20 491.15,392.72 491.90,393.24 492.65,393.76 493.40,394.29 494.15,394.81 494.90,395.33 495.65,395.86 496.40,396.39 497.15,396.91 497.90,397.44 498.65,397.97 499.40,398.51 500.15,399.04 500.90,399.57 501.65,400.11 502.40,400.64 503.15,401.18 503.90,401.72 504.65,402.26 505.40,402.81 506.15,403.35 506.90,403.90 507.65,404.44 508.40,404.99 509.15,405.54 509.90,406.09 510.65,406.64 511.40,407.19 512.15,407.75 512.90,408.30 513.65,408.86 514.40,409.41 515.15,409.97 515.90,410.53 516.65,411.08 517.40,411.64 518.15,412.20 518.90,412.75 519.65,413.31 520.40,413.86 521.15,414.42 521.90,414.97 522.65,415.52 523.40,416.07 524.15,416.62 524.90,417.17 525.65,417.71 526.40,418.25 527.15,418.79 527.90,419.33 528.65,419.86 529.40,420.39 530.15,420.92 530.90,421.45 531.65,421.97 532.40,422.48 533.15,423.00 533.90,423.51 534.65,424.01 535.40,424.52 536.15,425.01 536.90,425.51 537.65,425.99 538.40,426.48 539.15,426.96 539.90,427.44 540.65,427.91 541.40,428.37 542.15,428.84 542.90,429.30 543.65,429.75 544.40,430.20 545.15,430.65" stroke="#f02818" stroke-width="1.05"/>
<polyline points="25.40,426.92 26.15,426.45 26.90,425.97 27.65,425.50 28.40,425.02 29.15,424.54 29.90,424.05 30.65,423.57 31.40,423.08 32.15,422.59 32.90,422.09 33.65,421.60 34.40,421.10 35.15,420.60 35.90,420.10 36.65,419.60 37.40,419.09 38.15,418.59 38.90,418.08 39.65,417.57 40.40,417.06 41.15,416.55 41.90,416.03 42.65,415.52 43.40,415.00 44.15,414.49 44.90,413.97 45.65,413.46 46.40,412.94 47.15,412.42 47.90,411.90 48.65,411.39 49.40,410.87 50.15,410.35 50.90,409.83 51.65,409.31 52.40,408.79 53.15,408.27 53.90,407.75 54.65,407.24 55.40,406.72 56.15,406.20 56.90,405.68 57.65,405.16 58.40,404.64 59.15,404.12 59.90,403.60 60.65,403.08 61.40,402.56 62.15,402.04 62.90,401.52 63.65,401.00 64.40,400.48 65.15,399.96 65.90,399.44 66.65,398.91 67.40,398.39 68.15,397.86 68.90,397.34 69.65,396.81 70.40,396.28 71.15,395.75 71.90,395.22 72.65,394.69 73.40,394.16 74.15,393.62 74.90,393.09 75.65,392.55 76.40,392.01 77.15,391.47 77.90,390.93 78.65,390.39 79.40,389.84 80.15,389.30 80.90,388.75 81.65,388.20 82.40,387.65 83.15,387.10 83.90,386.55 84.65,386.00 85.40,385.44 86.15,384.89 86.90,384.33 87.65,383.78 88.40,383.22 89.15,382.66 89.90,382.11 90.65,381.55 91.40,381.00 92.15,380.44 92.90,379.88 93.65,379.33 94.40,378.78 95.15,378.22 95.90,377.67 96.65,377.12 97.40,376.57 98.15,376.03 98.90,375.48 99.65,374.94 100.40,374.40 101.15,373.87 101.90,373.33 102.65,372.80 103.40,372.28 104.15,371.75 104.90,371.23 105.65,370.72 106.40,370.20 107.15,369.69 107.90,369.19 108.65,368.69 109.40,368.19 110.15,367.70 110.90,367.21 111.65,366.73 112.40,366.25 113.15,365.77 113.90,365.30 114.65,364.84 115.40,364.37 116.15,363.92 116.90,363.46 117.65,363.01 118.40,362.57 119.15,362.12 119.90,361.69 120.65,361.25 121.40,360.82 122.15,360.39 122.90,359.96 123.65,359.54 124.40,359.12 125.15,358.70 125.90,358.28 126.65,357.87 127.40,357.45 128.15,357.04 128.90,356.63 129.65,356.21 130.40,355.80 131.15,355.39 131.90,354.98 132.65,354.56 133.40,354.15 134.15,353.73 134.90,353.31 135.65,352.89 136.40,352.47 137.15,352.05 137.90,351.62 138.65,351.19 139.40,350.76 140.15,350.32 140.90,349.88 141.65,349.43 142.40,348.98 143.15,348.53 143.90,348.07 144.65,347.61 145.40,347.15 146.15,346.68 146.90,346.20 147.65,345.72 148.40,345.23 149.15,344.74 149.90,344.25 150.65,343.75 151.40,343.24 152.15,342.73 152.90,342.22 153.65,341.70 154.40,341.18 155.15,340.65 155.90,340.12 156.65,339.59 157.40,339.05 158.15,338.51 158.90,337.97 159.65,337.42 160.40,336.88 161.15,336.33 161.90,335.77 162.65,335.22 163.40,334.67 164.15,334.11 164.90,333.56 165.65,333.00 166.40,332.45 167.15,331.89 167.90,331.34 168.65,330.79 169.40,330.24 170.15,329.70 170.90,329.15 171.65,328.61 172.40,328.07 173.15,327.54 173.90,327.01 174.65,326.49 175.40,325.97 176.15,325.45 176.90,324.94 177.65,324.44 178.40,323.94 179.15,323.45 179.90,322.96 180.65,322.48 181.40,322.01 182.15,321.55 182.90,321.09 183.65,320.64 184.40,320.20 185.15,319.76 185.90,319.33 186.65,318.91 187.40,318.50 188.15,318.09 188.90,317.70 189.65,317.31 190.40,316.93 191.15,316.55 191.90,316.18 192.65,315.82 193.40,315.47 194.15,315.13 194.90,314.79 195.65,314.46 196.40,314.13 197.15,313.82 197.90,313.50 198.65,313.20 199.40,312.90 200.15,312.61 200.90,312.32 201.65,312.04 202.40,311.76 203.15,311.49 203.90,311.22 204.65,310.95 205.40,310.70 206.15,310.44 206.90,310.19 207.65,309.94 208.40,309.70 209.15,309.46 209.90,309.22 210.65,308.99 211.40,308.76 212.15,308.53 212.90,308.30 213.65,308.08 214.40,307.86 215.15,307.64 215.90,307.42 216.65,307.21 217.40,307.00 218.15,306.79 218.90,306.58 219.65,306.38 220.40,306.18 221.15,305.98 221.90,305.78 222.65,305.58 223.40,305.39 224.15,305.20 224.90,305.02 225.65,304.83 226.40,304.65 227.15,304.47 227.90,304.30 228.65,304.13 229.40,303.96 230.15,303.80 230.90,303.64 231.65,303.48 232.40,303.33 233.15,303.18 233.90,303.04 234.65,302.91 235.40,302.78 236.15,302.65 236.90,302.53 237.65,302.41 238.40,302.30 239.15,302.20 239.90,302.10 240.65,302.01 241.40,301.93 242.15,301.85 242.90,301.78 243.65,301.71 244.40,301.65 245.15,301.60 245.90,301.56 246.65,301.52 247.40,301.49 248.15,301.46 248.90,301.44 249.65,301.43 250.40,301.42 251.15,301.42 251.90,301.43 252.65,301.44 253.40,301.46 254.15,301.48 254.90,301.51 255.65,301.54 256.40,301.58 257.15,301.62 257.90,301.67 258.65,301.72 259.40,301.78 260.15,301.84 260.90,301.90 261.65,301.96 262.40,302.03 263.15,302.09 263.90,302.16 264.65,302.23 265.40,302.31 266.15,302.38 266.90,302.45 267.65,302.52 268.40,302.59 269.15,302.66 269.90,302.73 270.65,302.80 271.40,302.86 272.15,302.93 272.90,302.99 273.65,303.04 274.40,303.10 275.15,303.15 275.90,303.19 276.65,303.23 277.40,303.27 278.15,303.30 278.90,303.33 279.65,303.35 280.40,303.37 281.15,303.38 281.90,303.38 282.65,303.38 283.40,303.38 284.15,303.37 284.90,303.35 285.65,303.33 286.40,303.30 287.15,303.27 287.90,303.23 288.65,303.19 289.40,303.14 290.15,303.08 290.90,303.02 291.65,302.96 292.40,302.89 293.15,302.82 293.90,302.74 294.65,302.66 295.40,302.58 296.15,302.49 296.90,302.41 297.65,302.31 298.40,302.22 299.15,302.13 299.90,302.03 300.65,301.93 301.40,301.84 302.15,301.74 302.90,301.64 303.65,301.54 304.40,301.45 305.15,301.35 305.90,301.26 306.65,301.17 307.40,301.09 308.15,301.00 308.90,300.92 309.65,300.85 310.40,300.77 311.15,300.71 311.90,300.64 312.65,300.59 313.40,300.53 314.15,300.49 314.90,300.45 315.65,300.41 316.40,300.39 317.15,300.37 317.90,300.35 318.65,300.35 319.40,300.35 320.15,300.36 320.90,300.38 321.65,300.40 322.40,300.43 323.15,300.47 323.90,300.52 324.65,300.58 325.40,300.65 326.15,300.72 326.90,300.80 327.65,300.89 328.40,300.99 329.15,301.10 329.90,301.21 330.65,301.33 331.40,301.46 332.15,301.60 332.90,301.75 333.65,301.90 334.40,302.06 335.15,302.23 335.90,302.40 336.65,302.58 337.40,302.77 338.15,302.97 338.90,303.17 339.65,303.37 340.40,303.59 341.15,303.81 341.90,304.03 342.65,304.26 343.40,304.50 344.15,304.74 344.90,304.99 345.65,305.24 346.40,305.50 347.15,305.76 347.90,306.03 348.65,306.30 349.40,306.58 350.15,306.86 350.90,307.14 351.65,307.43 352.40,307.72 353.15,308.02 353.90,308.32 354.65,308.63 355.40,308.94 356.15,309.25 356.90,309.57 357.65,309.89 358.40,310.21 359.15,310.54 359.90,310.88 360.65,311.21 361.40,311.55 362.15,311.90 362.90,312.25 363.65,312.60 364.40,312.96 365.15,313.32 365.90,313.69 366.65,314.06 367.40,314.44 368.15,314.82 368.90,315.20 369.65,315.59 370.40,315.98 371.15,316.38 371.90,316.79 372.65,317.19 373.40,317.61 374.15,318.02 374.90,318.45 375.65,318.87 376.40,319.31 377.15,319.74 377.90,320.19 378.65,320.63 379.40,321.08 380.15,321.54 380.90,322.00 381.65,322.47 382.40,322.94 383.15,323.41 383.90,323.89 384.65,324.37 385.40,324.86 386.15,325.35 386.90,325.85 387.65,326.34 388.40,326.85 389.15,327.35 389.90,327.86 390.65,328.37 391.40,328.88 392.15,329.40 392.90,329.91 393.65,330.43 394.40,330.96 395.15,331.48 395.90,332.00 396.65,332.53 397.40,333.05 398.15,333.58 398.90,334.11 399.65,334.63 400.40,335.16 401.15,335.69 401.90,336.21 402.65,336.74 403.40,337.26 404.15,337.78 404.90,338.30 405.65,338.82 406.40,339.34 407.15,339.85 407.90,340.37 408.65,340.88 409.40,341.38 410.15,341.89 410.90,342.39 411.65,342.89 412.40,343.39 413.15,343.88 413.90,344.37 414.65,344.86 415.40,345.34 416.15,345.83 416.90,346.30 417.65,346.78 418.40,347.25 419.15,347.72 419.90,348.18 420.65,348.65 421.40,349.11 422.15,349.56 422.90,350.02 423.65,350.47 424.40,350.92 425.15,351.36 425.90,351.81 426.65,352.25 427.40,352.69 428.15,353.13 428.90,353.57 429.65,354.00 430.40,354.44 431.15,354.87 431.90,355.31 432.65,355.74 433.40,356.17 434.15,356.60 434.90,357.04 435.65,357.47 436.40,357.90 437.15,358.33 437.90,358.77 438.65,359.20 439.40,359.64 440.15,360.08 440.90,360.52 441.65,360.96 442.40,361.40 443.15,361.84 443.90,362.29 444.65,362.74 445.40,363.19 446.15,363.64 446.90,364.09 447.65,364.55 448.40,365.01 449.15,365.47 449.90,365.94 450.65,366.41 451.40,366.88 452.15,367.35 452.90,367.82 453.65,368.30 454.40,368.78 455.15,369.26 455.90,369.75 456.65,370.24 457.40,370.73 458.15,371.22 458.90,371.71 459.65,372.21 460.40,372.71 461.15,373.21 461.90,373.71 462.65,374.22 463.40,374.72 464.15,375.23 464.90,375.74 465.65,376.25 466.40,376.76 467.15,377.27 467.90,377.79 468.65,378.30 469.40,378.82 470.15,379.33 470.90,379.85 471.65,380.37 472.40,380.88 473.15,381.40 473.90,381.92 474.65,382.44 475.40,382.96 476.15,383.47 476.90,383.99 477.65,384.51 478.40,385.03 479.15,385.55 479.90,386.07 480.65,386.59 481.40,387.11 482.15,387.63 482.90,388.14 483.65,388.66 484.40,389.18 485.15,389.70 485.90,390.22 486.65,390.74 487.40,391.26 488.15,391.78 488.90,392.30 489.65,392.82 490.40,393.34 491.15,393.87 491.90,394.39 492.65,394.91 493.40,395.44 494.15,395.96 494.90,396.49 495.65,397.02 496.40,397.55 497.15,398.08 497.90,398.61 498.65,399.14 499.40,399.68 500.15,400.21 500.90,400.75 501.65,401.29 502.40,401.82 503.15,402.37 503.90,402.91 504.65,403.45 505.40,404.00 506.15,404.54 506.90,405.09 507.65,405.64 508.40,406.19 509.15,406.74 509.90,407.30 510.65,407.85 511.40,408.40 512.15,408.96 512.90,409.51 513.65,410.07 514.40,410.63 515.15,411.18 515.90,411.74 516.65,412.30 517.40,412.85 518.15,413.41 518.90,413.96 519.65,414.52 520.40,415.07 521.15,415.62 521.90,416.17 522.65,416.72 523.40,417.27 524.15,417.81 524.90,418.35 525.65,418.89 526.40,419.43 527.15,419.97 527.90,420.50 528.65,421.03 529.40,421.55 530.15,422.07 530.90,422.59 531.65,423.10 532.40,423.62 533.15,424.12 533.90,424.62 534.65,425.12 535.40,425.62 536.15,426.10 536.90,426.59 537.65,427.07 538.40,427.55 539.15,428.02 539.90,428.49 540.65,428.95 541.40,429.41 542.15,429.87 542.90,430.32 543.65,430.76 544.40,431.21 545.15,431.65" stroke="#d8c43a" stroke-width="1.2" stroke-opacity="0.95"/>
<polyline points="25.40,472.92 26.15,472.50 26.90,472.07 27.65,471.63 28.40,471.19 29.15,470.75 29.90,470.30 30.65,469.84 31.40,469.38 32.15,468.91 32.90,468.44 33.65,467.96 34.40,467.48 35.15,467.00 35.90,466.51 36.65,466.02 37.40,465.52 38.15,465.02 38.90,464.52 39.65,464.01 40.40,463.50 41.15,462.99 41.90,462.47 42.65,461.95 43.40,461.44 44.15,460.92 44.90,460.39 45.65,459.87 46.40,459.35 47.15,458.82 47.90,458.30 48.65,457.77 49.40,457.25 50.15,456.72 50.90,456.20 51.65,455.68 52.40,455.16 53.15,454.64 53.90,454.12 54.65,453.60 55.40,453.09 56.15,452.57 56.90,452.06 57.65,451.55 58.40,451.05 59.15,450.54 59.90,450.04 60.65,449.55 61.40,449.05 62.15,448.56 62.90,448.07 63.65,447.58 64.40,447.10 65.15,446.62 65.90,446.14 66.65,445.67 67.40,445.20 68.15,444.73 68.90,444.26 69.65,443.80 70.40,443.34 71.15,442.88 71.90,442.42 72.65,441.97 73.40,441.52 74.15,441.07 74.90,440.62 75.65,440.17 76.40,439.72 77.15,439.28 77.90,438.84 78.65,438.39 79.40,437.95 80.15,437.51 80.90,437.07 81.65,436.63 82.40,436.18 83.15,435.74 83.90,435.30 84.65,434.85 85.40,434.41 86.15,433.96 86.90,433.52 87.65,433.07 88.40,432.62 89.15,432.17 89.90,431.72 90.65,431.26 91.40,430.80 92.15,430.34 92.90,429.88 93.65,429.42 94.40,428.95 95.15,428.48 95.90,428.01 96.65,427.54 97.40,427.06 98.15,426.58 98.90,426.10 99.65,425.61 100.40,425.13 101.15,424.64 101.90,424.14 102.65,423.65 103.40,423.15 104.15,422.65 104.90,422.15 105.65,421.64 106.40,421.13 107.15,420.62 107.90,420.11 108.65,419.59 109.40,419.08 110.15,418.56 110.90,418.04 111.65,417.51 112.40,416.99 113.15,416.46 113.90,415.94 114.65,415.41 115.40,414.87 116.15,414.34 116.90,413.81 117.65,413.27 118.40,412.74 119.15,412.20 119.90,411.66 120.65,411.12 121.40,410.58 122.15,410.04 122.90,409.50 123.65,408.96 124.40,408.41 125.15,407.87 125.90,407.32 126.65,406.78 127.40,406.23 128.15,405.69 128.90,405.14 129.65,404.59 130.40,404.04 131.15,403.49 131.90,402.94 132.65,402.39 133.40,401.84 134.15,401.28 134.90,400.73 135.65,400.17 136.40,399.62 137.15,399.06 137.90,398.50 138.65,397.95 139.40,397.39 140.15,396.83 140.90,396.27 141.65,395.70 142.40,395.14 143.15,394.58 143.90,394.01 144.65,393.44 145.40,392.88 146.15,392.31 146.90,391.74 147.65,391.17 148.40,390.60 149.15,390.02 149.90,389.45 150.65,388.88 151.40,388.30 152.15,387.73 152.90,387.15 153.65,386.58 154.40,386.00 155.15,385.42 155.90,384.85 156.65,384.27 157.40,383.70 158.15,383.12 158.90,382.54 159.65,381.97 160.40,381.40 161.15,380.82 161.90,380.25 162.65,379.68 163.40,379.11 164.15,378.55 164.90,377.98 165.65,377.42 166.40,376.86 167.15,376.30 167.90,375.75 168.65,375.20 169.40,374.65 170.15,374.10 170.90,373.56 171.65,373.02 172.40,372.48 173.15,371.95 173.90,371.42 174.65,370.90 175.40,370.38 176.15,369.87 176.90,369.36 177.65,368.85 178.40,368.35 179.15,367.85 179.90,367.36 180.65,366.87 181.40,366.39 182.15,365.91 182.90,365.44 183.65,364.97 184.40,364.51 185.15,364.05 185.90,363.59 186.65,363.14 187.40,362.70 188.15,362.26 188.90,361.82 189.65,361.38 190.40,360.95 191.15,360.53 191.90,360.10 192.65,359.68 193.40,359.26 194.15,358.85 194.90,358.43 195.65,358.02 196.40,357.61 197.15,357.21 197.90,356.80 198.65,356.39 199.40,355.99 200.15,355.58 200.90,355.18 201.65,354.77 202.40,354.37 203.15,353.96 203.90,353.55 204.65,353.15 205.40,352.74 206.15,352.32 206.90,351.91 207.65,351.49 208.40,351.07 209.15,350.65 209.90,350.22 210.65,349.80 211.40,349.36 212.15,348.93 212.90,348.49 213.65,348.04 214.40,347.60 215.15,347.15 215.90,346.69 216.65,346.23 217.40,345.76 218.15,345.30 218.90,344.82 219.65,344.34 220.40,343.86 221.15,343.38 221.90,342.89 222.65,342.39 223.40,341.89 224.15,341.39 224.90,340.89 225.65,340.38 226.40,339.87 227.15,339.35 227.90,338.83 228.65,338.31 229.40,337.79 230.15,337.26 230.90,336.74 231.65,336.21 232.40,335.68 233.15,335.15 233.90,334.62 234.65,334.09 235.40,333.56 236.15,333.03 236.90,332.50 237.65,331.97 238.40,331.44 239.15,330.92 239.90,330.40 240.65,329.88 241.40,329.36 242.15,328.84 242.90,328.33 243.65,327.83 244.40,327.32 245.15,326.82 245.90,326.33 246.65,325.84 247.40,325.35 248.15,324.87 248.90,324.40 249.65,323.93 250.40,323.47 251.15,323.01 251.90,322.56 252.65,322.11 253.40,321.67 254.15,321.24 254.90,320.81 255.65,320.39 256.40,319.97 257.15,319.57 257.90,319.16 258.65,318.77 259.40,318.38 260.15,318.00 260.90,317.62 261.65,317.25 262.40,316.88 263.15,316.52 263.90,316.17 264.65,315.82 265.40,315.47 266.15,315.14 266.90,314.80 267.65,314.47 268.40,314.15 269.15,313.83 269.90,313.51 270.65,313.20 271.40,312.89 272.15,312.59 272.90,312.28 273.65,311.99 274.40,311.69 275.15,311.40 275.90,311.11 276.65,310.82 277.40,310.54 278.15,310.26 278.90,309.98 279.65,309.70 280.40,309.42 281.15,309.15 281.90,308.87 282.65,308.60 283.40,308.33 284.15,308.07 284.90,307.80 285.65,307.54 286.40,307.27 287.15,307.01 287.90,306.75 288.65,306.50 289.40,306.24 290.15,305.99 290.90,305.74 291.65,305.49 292.40,305.24 293.15,305.00 293.90,304.76 294.65,304.52 295.40,304.29 296.15,304.06 296.90,303.83 297.65,303.61 298.40,303.39 299.15,303.17 299.90,302.96 300.65,302.76 301.40,302.56 302.15,302.36 302.90,302.17 303.65,301.99 304.40,301.81 305.15,301.64 305.90,301.47 306.65,301.31 307.40,301.16 308.15,301.01 308.90,300.88 309.65,300.75 310.40,300.62 311.15,300.51 311.90,300.40 312.65,300.30 313.40,300.20 314.15,300.12 314.90,300.04 315.65,299.97 316.40,299.91 317.15,299.86 317.90,299.81 318.65,299.78 319.40,299.75 320.15,299.72 320.90,299.71 321.65,299.70 322.40,299.70 323.15,299.71 323.90,299.72 324.65,299.74 325.40,299.76 326.15,299.79 326.90,299.83 327.65,299.87 328.40,299.92 329.15,299.97 329.90,300.02 330.65,300.08 331.40,300.15 332.15,300.21 332.90,300.28 333.65,300.35 334.40,300.42 335.15,300.49 335.90,300.57 336.65,300.64 337.40,300.71 338.15,300.79 338.90,300.86 339.65,300.93 340.40,301.01 341.15,301.07 341.90,301.14 342.65,301.21 343.40,301.27 344.15,301.32 344.90,301.38 345.65,301.43 346.40,301.48 347.15,301.52 347.90,301.56 348.65,301.59 349.40,301.62 350.15,301.64 350.90,301.66 351.65,301.67 352.40,301.68 353.15,301.68 353.90,301.67 354.65,301.66 355.40,301.65 356.15,301.63 356.90,301.60 357.65,301.57 358.40,301.54 359.15,301.50 359.90,301.45 360.65,301.40 361.40,301.35 362.15,301.29 362.90,301.23 363.65,301.16 364.40,301.10 365.15,301.03 365.90,300.95 366.65,300.88 367.40,300.80 368.15,300.72 368.90,300.64 369.65,300.56 370.40,300.48 371.15,300.40 371.90,300.32 372.65,300.25 373.40,300.17 374.15,300.10 374.90,300.02 375.65,299.95 376.40,299.89 377.15,299.83 377.90,299.77 378.65,299.71 379.40,299.66 380.15,299.62 380.90,299.58 381.65,299.55 382.40,299.52 383.15,299.50 383.90,299.49 384.65,299.48 385.40,299.48 386.15,299.48 386.90,299.50 387.65,299.52 388.40,299.55 389.15,299.59 389.90,299.63 390.65,299.68 391.40,299.75 392.15,299.82 392.90,299.89 393.65,299.98 394.40,300.07 395.15,300.17 395.90,300.29 396.65,300.40 397.40,300.53 398.15,300.66 398.90,300.80 399.65,300.95 400.40,301.11 401.15,301.27 401.90,301.44 402.65,301.62 403.40,301.80 404.15,301.99 404.90,302.19 405.65,302.39 406.40,302.59 407.15,302.81 407.90,303.03 408.65,303.25 409.40,303.48 410.15,303.71 410.90,303.94 411.65,304.18 412.40,304.43 413.15,304.68 413.90,304.93 414.65,305.18 415.40,305.44 416.15,305.70 416.90,305.97 417.65,306.23 418.40,306.50 419.15,306.77 419.90,307.05 420.65,307.32 421.40,307.60 422.15,307.88 422.90,308.16 423.65,308.45 424.40,308.74 425.15,309.02 425.90,309.31 426.65,309.61 427.40,309.90 428.15,310.20 428.90,310.50 429.65,310.80 430.40,311.10 431.15,311.41 431.90,311.72 432.65,312.03 433.40,312.35 434.15,312.66 434.90,312.98 435.65,313.31 436.40,313.64 437.15,313.97 437.90,314.30 438.65,314.64 439.40,314.98 440.15,315.33 440.90,315.68 441.65,316.04 442.40,316.40 443.15,316.76 443.90,317.13 444.65,317.51 445.40,317.88 446.15,318.27 446.90,318.66 447.65,319.05 448.40,319.45 449.15,319.86 449.90,320.27 450.65,320.69 451.40,321.11 452.15,321.54 452.90,321.97 453.65,322.41 454.40,322.85 455.15,323.30 455.90,323.76 456.65,324.22 457.40,324.68 458.15,325.15 458.90,325.63 459.65,326.11 460.40,326.59 461.15,327.08 461.90,327.57 462.65,328.06 463.40,328.56 464.15,329.07 464.90,329.57 465.65,330.08 466.40,330.59 467.15,331.11 467.90,331.62 468.65,332.14 469.40,332.66 470.15,333.18 470.90,333.70 471.65,334.23 472.40,334.75 473.15,335.28 473.90,335.80 474.65,336.33 475.40,336.85 476.15,337.37 476.90,337.90 477.65,338.42 478.40,338.94 479.15,339.46 479.90,339.98 480.65,340.49 481.40,341.01 482.15,341.52 482.90,342.03 483.65,342.53 484.40,343.04 485.15,343.54 485.90,344.04 486.65,344.53 487.40,345.03 488.15,345.52 488.90,346.00 489.65,346.49 490.40,346.97 491.15,347.45 491.90,347.92 492.65,348.40 493.40,348.87 494.15,349.33 494.90,349.80 495.65,350.26 496.40,350.72 497.15,351.18 497.90,351.63 498.65,352.08 499.40,352.53 500.15,352.98 500.90,353.43 501.65,353.88 502.40,354.32 503.15,354.77 503.90,355.21 504.65,355.65 505.40,356.09 506.15,356.54 506.90,356.98 507.65,357.42 508.40,357.86 509.15,358.30 509.90,358.75 510.65,359.19 511.40,359.64 512.15,360.08 512.90,360.53 513.65,360.98 514.40,361.43 515.15,361.88 515.90,362.34 516.65,362.79 517.40,363.25 518.15,363.71 518.90,364.18 519.65,364.64 520.40,365.11 521.15,365.58 521.90,366.05 522.65,366.53 523.40,367.01 524.15,367.49 524.90,367.97 525.65,368.46 526.40,368.95 527.15,369.44 527.90,369.94 528.65,370.43 529.40,370.93 530.15,371.44 530.90,371.94 531.65,372.45 532.40,372.96 533.15,373.47 533.90,373.98 534.65,374.50 535.40,375.02 536.15,375.54 536.90,376.06 537.65,376.58 538.40,377.11 539.15,377.64 539.90,378.17 540.65,378.70 541.40,379.23 542.15,379.76 542.90,380.30 543.65,380.83 544.40,381.37 545.15,381.91" stroke="#2828e0" stroke-width="1.05"/>
<polyline points="25.40,473.62 26.15,473.20 26.90,472.77 27.65,472.33 28.40,471.89 29.15,471.45 29.90,471.00 30.65,470.54 31.40,470.08 32.15,469.61 32.90,469.14 33.65,468.66 34.40,468.18 35.15,467.70 35.90,467.21 36.65,466.72 37.40,466.22 38.15,465.72 38.90,465.22 39.65,464.71 40.40,464.20 41.15,463.69 41.90,463.17 42.65,462.65 43.40,462.14 44.15,461.62 44.90,461.09 45.65,460.57 46.40,460.05 47.15,459.52 47.90,459.00 48.65,458.47 49.40,457.95 50.15,457.42 50.90,456.90 51.65,456.38 52.40,455.86 53.15,455.34 53.90,454.82 54.65,454.30 55.40,453.79 56.15,453.27 56.90,452.76 57.65,452.25 58.40,451.75 59.15,451.24 59.90,450.74 60.65,450.25 61.40,449.75 62.15,449.26 62.90,448.77 63.65,448.28 64.40,447.80 65.15,447.32 65.90,446.84 66.65,446.37 67.40,445.90 68.15,445.43 68.90,444.96 69.65,444.50 70.40,444.04 71.15,443.58 71.90,443.12 72.65,442.67 73.40,442.22 74.15,441.77 74.90,441.32 75.65,440.87 76.40,440.42 77.15,439.98 77.90,439.54 78.65,439.09 79.40,438.65 80.15,438.21 80.90,437.77 81.65,437.33 82.40,436.88 83.15,436.44 83.90,436.00 84.65,435.55 85.40,435.11 86.15,434.66 86.90,434.22 87.65,433.77 88.40,433.32 89.15,432.87 89.90,432.42 90.65,431.96 91.40,431.50 92.15,431.04 92.90,430.58 93.65,430.12 94.40,429.65 95.15,429.18 95.90,428.71 96.65,428.24 97.40,427.76 98.15,427.28 98.90,426.80 99.65,426.31 100.40,425.83 101.15,425.34 101.90,424.84 102.65,424.35 103.40,423.85 104.15,423.35 104.90,422.85 105.65,422.34 106.40,421.83 107.15,421.32 107.90,420.81 108.65,420.29 109.40,419.78 110.15,419.26 110.90,418.74 111.65,418.21 112.40,417.69 113.15,417.16 113.90,416.64 114.65,416.11 115.40,415.57 116.15,415.04 116.90,414.51 117.65,413.97 118.40,413.44 119.15,412.90 119.90,412.36 120.65,411.82 121.40,411.28 122.15,410.74 122.90,410.20 123.65,409.66 124.40,409.11 125.15,408.57 125.90,408.02 126.65,407.48 127.40,406.93 128.15,406.39 128.90,405.84 129.65,405.29 130.40,404.74 131.15,404.19 131.90,403.64 132.65,403.09 133.40,402.54 134.15,401.98 134.90,401.43 135.65,400.87 136.40,400.32 137.15,399.76 137.90,399.20 138.65,398.65 139.40,398.09 140.15,397.53 140.90,396.97 141.65,396.40 142.40,395.84 143.15,395.28 143.90,394.71 144.65,394.14 145.40,393.58 146.15,393.01 146.90,392.44 147.65,391.87 148.40,391.30 149.15,390.72 149.90,390.15 150.65,389.58 151.40,389.00 152.15,388.43 152.90,387.85 153.65,387.28 154.40,386.70 155.15,386.12 155.90,385.55 156.65,384.97 157.40,384.40 158.15,383.82 158.90,383.24 159.65,382.67 160.40,382.10 161.15,381.52 161.90,380.95 162.65,380.38 163.40,379.81 164.15,379.25 164.90,378.68 165.65,378.12 166.40,377.56 167.15,377.00 167.90,376.45 168.65,375.90 169.40,375.35 170.15,374.80 170.90,374.26 171.65,373.72 172.40,373.18 173.15,372.65 173.90,372.12 174.65,371.60 175.40,371.08 176.15,370.57 176.90,370.06 177.65,369.55 178.40,369.05 179.15,368.55 179.90,368.06 180.65,367.57 181.40,367.09 182.15,366.61 182.90,366.14 183.65,365.67 184.40,365.21 185.15,364.75 185.90,364.29 186.65,363.84 187.40,363.40 188.15,362.96 188.90,362.52 189.65,362.08 190.40,361.65 191.15,361.23 191.90,360.80 192.65,360.38 193.40,359.96 194.15,359.55 194.90,359.13 195.65,358.72 196.40,358.31 197.15,357.91 197.90,357.50 198.65,357.09 199.40,356.69 200.15,356.28 200.90,355.88 201.65,355.47 202.40,355.07 203.15,354.66 203.90,354.25 204.65,353.85 205.40,353.44 206.15,353.02 206.90,352.61 207.65,352.19 208.40,351.77 209.15,351.35 209.90,350.92 210.65,350.50 211.40,350.06 212.15,349.63 212.90,349.19 213.65,348.74 214.40,348.30 215.15,347.85 215.90,347.39 216.65,346.93 217.40,346.46 218.15,346.00 218.90,345.52 219.65,345.04 220.40,344.56 221.15,344.08 221.90,343.59 222.65,343.09 223.40,342.59 224.15,342.09 224.90,341.59 225.65,341.08 226.40,340.57 227.15,340.05 227.90,339.53 228.65,339.01 229.40,338.49 230.15,337.96 230.90,337.44 231.65,336.91 232.40,336.38 233.15,335.85 233.90,335.32 234.65,334.79 235.40,334.26 236.15,333.73 236.90,333.20 237.65,332.67 238.40,332.14 239.15,331.62 239.90,331.10 240.65,330.58 241.40,330.06 242.15,329.54 242.90,329.03 243.65,328.53 244.40,328.02 245.15,327.52 245.90,327.03 246.65,326.54 247.40,326.05 248.15,325.57 248.90,325.10 249.65,324.63 250.40,324.17 251.15,323.71 251.90,323.26 252.65,322.81 253.40,322.37 254.15,321.94 254.90,321.51 255.65,321.09 256.40,320.67 257.15,320.27 257.90,319.86 258.65,319.47 259.40,319.08 260.15,318.70 260.90,318.32 261.65,317.95 262.40,317.58 263.15,317.22 263.90,316.87 264.65,316.52 265.40,316.17 266.15,315.84 266.90,315.50 267.65,315.17 268.40,314.85 269.15,314.53 269.90,314.21 270.65,313.90 271.40,313.59 272.15,313.29 272.90,312.98 273.65,312.69 274.40,312.39 275.15,312.10 275.90,311.81 276.65,311.52 277.40,311.24 278.15,310.96 278.90,310.68 279.65,310.40 280.40,310.12 281.15,309.85 281.90,309.57 282.65,309.30 283.40,309.03 284.15,308.77 284.90,308.50 285.65,308.24 286.40,307.97 287.15,307.71 287.90,307.45 288.65,307.20 289.40,306.94 290.15,306.69 290.90,306.44 291.65,306.19 292.40,305.94 293.15,305.70 293.90,305.46 294.65,305.22 295.40,304.99 296.15,304.76 296.90,304.53 297.65,304.31 298.40,304.09 299.15,303.87 299.90,303.66 300.65,303.46 301.40,303.26 302.15,303.06 302.90,302.87 303.65,302.69 304.40,302.51 305.15,302.34 305.90,302.17 306.65,302.01 307.40,301.86 308.15,301.71 308.90,301.58 309.65,301.45 310.40,301.32 311.15,301.21 311.90,301.10 312.65,301.00 313.40,300.90 314.15,300.82 314.90,300.74 315.65,300.67 316.40,300.61 317.15,300.56 317.90,300.51 318.65,300.48 319.40,300.45 320.15,300.42 320.90,300.41 321.65,300.40 322.40,300.40 323.15,300.41 323.90,300.42 324.65,300.44 325.40,300.46 326.15,300.49 326.90,300.53 327.65,300.57 328.40,300.62 329.15,300.67 329.90,300.72 330.65,300.78 331.40,300.85 332.15,300.91 332.90,300.98 333.65,301.05 334.40,301.12 335.15,301.19 335.90,301.27 336.65,301.34 337.40,301.41 338.15,301.49 338.90,301.56 339.65,301.63 340.40,301.71 341.15,301.77 341.90,301.84 342.65,301.91 343.40,301.97 344.15,302.02 344.90,302.08 345.65,302.13 346.40,302.18 347.15,302.22 347.90,302.26 348.65,302.29 349.40,302.32 350.15,302.34 350.90,302.36 351.65,302.37 352.40,302.38 353.15,302.38 353.90,302.37 354.65,302.36 355.40,302.35 356.15,302.33 356.90,302.30 357.65,302.27 358.40,302.24 359.15,302.20 359.90,302.15 360.65,302.10 361.40,302.05 362.15,301.99 362.90,301.93 363.65,301.86 364.40,301.80 365.15,301.73 365.90,301.65 366.65,301.58 367.40,301.50 368.15,301.42 368.90,301.34 369.65,301.26 370.40,301.18 371.15,301.10 371.90,301.02 372.65,300.95 373.40,300.87 374.15,300.80 374.90,300.72 375.65,300.65 376.40,300.59 377.15,300.53 377.90,300.47 378.65,300.41 379.40,300.36 380.15,300.32 380.90,300.28 381.65,300.25 382.40,300.22 383.15,300.20 383.90,300.19 384.65,300.18 385.40,300.18 386.15,300.18 386.90,300.20 387.65,300.22 388.40,300.25 389.15,300.29 389.90,300.33 390.65,300.38 391.40,300.45 392.15,300.52 392.90,300.59 393.65,300.68 394.40,300.77 395.15,300.87 395.90,300.99 396.65,301.10 397.40,301.23 398.15,301.36 398.90,301.50 399.65,301.65 400.40,301.81 401.15,301.97 401.90,302.14 402.65,302.32 403.40,302.50 404.15,302.69 404.90,302.89 405.65,303.09 406.40,303.29 407.15,303.51 407.90,303.73 408.65,303.95 409.40,304.18 410.15,304.41 410.90,304.64 411.65,304.88 412.40,305.13 413.15,305.38 413.90,305.63 414.65,305.88 415.40,306.14 416.15,306.40 416.90,306.67 417.65,306.93 418.40,307.20 419.15,307.47 419.90,307.75 420.65,308.02 421.40,308.30 422.15,308.58 422.90,308.86 423.65,309.15 424.40,309.44 425.15,309.72 425.90,310.01 426.65,310.31 427.40,310.60 428.15,310.90 428.90,311.20 429.65,311.50 430.40,311.80 431.15,312.11 431.90,312.42 432.65,312.73 433.40,313.05 434.15,313.36 434.90,313.68 435.65,314.01 436.40,314.34 437.15,314.67 437.90,315.00 438.65,315.34 439.40,315.68 440.15,316.03 440.90,316.38 441.65,316.74 442.40,317.10 443.15,317.46 443.90,317.83 444.65,318.21 445.40,318.58 446.15,318.97 446.90,319.36 447.65,319.75 448.40,320.15 449.15,320.56 449.90,320.97 450.65,321.39 451.40,321.81 452.15,322.24 452.90,322.67 453.65,323.11 454.40,323.55 455.15,324.00 455.90,324.46 456.65,324.92 457.40,325.38 458.15,325.85 458.90,326.33 459.65,326.81 460.40,327.29 461.15,327.78 461.90,328.27 462.65,328.76 463.40,329.26 464.15,329.77 464.90,330.27 465.65,330.78 466.40,331.29 467.15,331.81 467.90,332.32 468.65,332.84 469.40,333.36 470.15,333.88 470.90,334.40 471.65,334.93 472.40,335.45 473.15,335.98 473.90,336.50 474.65,337.03 475.40,337.55 476.15,338.07 476.90,338.60 477.65,339.12 478.40,339.64 479.15,340.16 479.90,340.68 480.65,341.19 481.40,341.71 482.15,342.22 482.90,342.73 483.65,343.23 484.40,343.74 485.15,344.24 485.90,344.74 486.65,345.23 487.40,345.73 488.15,346.22 488.90,346.70 489.65,347.19 490.40,347.67 491.15,348.15 491.90,348.62 492.65,349.10 493.40,349.57 494.15,350.03 494.90,350.50 495.65,350.96 496.40,351.42 497.15,351.88 497.90,352.33 498.65,352.78 499.40,353.23 500.15,353.68 500.90,354.13 501.65,354.58 502.40,355.02 503.15,355.47 503.90,355.91 504.65,356.35 505.40,356.79 506.15,357.24 506.90,357.68 507.65,358.12 508.40,358.56 509.15,359.00 509.90,359.45 510.65,359.89 511.40,360.34 512.15,360.78 512.90,361.23 513.65,361.68 514.40,362.13 515.15,362.58 515.90,363.04 516.65,363.49 517.40,363.95 518.15,364.41 518.90,364.88 519.65,365.34 520.40,365.81 521.15,366.28 521.90,366.75 522.65,367.23 523.40,367.71 524.15,368.19 524.90,368.67 525.65,369.16 526.40,369.65 527.15,370.14 527.90,370.64 528.65,371.13 529.40,371.63 530.15,372.14 530.90,372.64 531.65,373.15 532.40,373.66 533.15,374.17 533.90,374.68 534.65,375.20 535.40,375.72 536.15,376.24 536.90,376.76 537.65,377.28 538.40,377.81 539.15,378.34 539.90,378.87 540.65,379.40 541.40,379.93 542.15,380.46 542.90,381.00 543.65,381.53 544.40,382.07 545.15,382.61" stroke="#2c9e40" stroke-width="1.2" stroke-opacity="0.95"/>
</g>
<line x1="41.40" y1="492.9" x2="41.40" y2="487.9" stroke="#8c8c8c" stroke-width="1"/>
<line x1="41.40" y1="278.5" x2="41.40" y2="283.5" stroke="#8c8c8c" stroke-width="1"/>
<line x1="92.42" y1="492.9" x2="92.42" y2="487.9" stroke="#8c8c8c" stroke-width="1"/>
<line x1="92.42" y1="278.5" x2="92.42" y2="283.5" stroke="#8c8c8c" stroke-width="1"/>
<line x1="143.44" y1="492.9" x2="143.44" y2="487.9" stroke="#8c8c8c" stroke-width="1"/>
<line x1="143.44" y1="278.5" x2="143.44" y2="283.5" stroke="#8c8c8c" stroke-width="1"/>
<line x1="194.46" y1="492.9" x2="194.46" y2="487.9" stroke="#8c8c8c" stroke-width="1"/>
<line x1="194.46" y1="278.5" x2="194.46" y2="283.5" stroke="#8c8c8c" stroke-width="1"/>
<line x1="245.48" y1="492.9" x2="245.48" y2="487.9" stroke="#8c8c8c" stroke-width="1"/>
<line x1="245.48" y1="278.5" x2="245.48" y2="283.5" stroke="#8c8c8c" stroke-width="1"/>
<line x1="296.50" y1="492.9" x2="296.50" y2="487.9" stroke="#8c8c8c" stroke-width="1"/>
<line x1="296.50" y1="278.5" x2="296.50" y2="283.5" stroke="#8c8c8c" stroke-width="1"/>
<line x1="347.52" y1="492.9" x2="347.52" y2="487.9" stroke="#8c8c8c" stroke-width="1"/>
<line x1="347.52" y1="278.5" x2="347.52" y2="283.5" stroke="#8c8c8c" stroke-width="1"/>
<line x1="398.54" y1="492.9" x2="398.54" y2="487.9" stroke="#8c8c8c" stroke-width="1"/>
<line x1="398.54" y1="278.5" x2="398.54" y2="283.5" stroke="#8c8c8c" stroke-width="1"/>
<line x1="449.56" y1="492.9" x2="449.56" y2="487.9" stroke="#8c8c8c" stroke-width="1"/>
<line x1="449.56" y1="278.5" x2="449.56" y2="283.5" stroke="#8c8c8c" stroke-width="1"/>
<line x1="500.58" y1="492.9" x2="500.58" y2="487.9" stroke="#8c8c8c" stroke-width="1"/>
<line x1="500.58" y1="278.5" x2="500.58" y2="283.5" stroke="#8c8c8c" stroke-width="1"/>
<line x1="26.4" y1="480.40" x2="31.4" y2="480.40" stroke="#8c8c8c" stroke-width="1"/>
<line x1="544.4" y1="480.40" x2="539.4" y2="480.40" stroke="#8c8c8c" stroke-width="1"/>
<line x1="26.4" y1="438.70" x2="31.4" y2="438.70" stroke="#8c8c8c" stroke-width="1"/>
<line x1="544.4" y1="438.70" x2="539.4" y2="438.70" stroke="#8c8c8c" stroke-width="1"/>
<line x1="26.4" y1="397.00" x2="31.4" y2="397.00" stroke="#8c8c8c" stroke-width="1"/>
<line x1="544.4" y1="397.00" x2="539.4" y2="397.00" stroke="#8c8c8c" stroke-width="1"/>
<line x1="26.4" y1="355.30" x2="31.4" y2="355.30" stroke="#8c8c8c" stroke-width="1"/>
<line x1="544.4" y1="355.30" x2="539.4" y2="355.30" stroke="#8c8c8c" stroke-width="1"/>
<line x1="26.4" y1="313.60" x2="31.4" y2="313.60" stroke="#8c8c8c" stroke-width="1"/>
<line x1="544.4" y1="313.60" x2="539.4" y2="313.60" stroke="#8c8c8c" stroke-width="1"/>
<rect x="26.4" y="278.5" width="518.00" height="214.40" fill="none" stroke="#707070" stroke-width="1.3"/>
<text x="41.40" y="502.30" font-family="Liberation Sans, sans-serif" font-size="7" text-anchor="middle" stroke="#262626" stroke-width="0.12" stroke-linejoin="round" fill="#262626">0.099</text>
<text x="92.42" y="502.30" font-family="Liberation Sans, sans-serif" font-size="7" text-anchor="middle" stroke="#262626" stroke-width="0.12" stroke-linejoin="round" fill="#262626">0.1</text>
<text x="143.44" y="502.30" font-family="Liberation Sans, sans-serif" font-size="7" text-anchor="middle" stroke="#262626" stroke-width="0.12" stroke-linejoin="round" fill="#262626">0.101</text>
<text x="194.46" y="502.30" font-family="Liberation Sans, sans-serif" font-size="7" text-anchor="middle" stroke="#262626" stroke-width="0.12" stroke-linejoin="round" fill="#262626">0.102</text>
<text x="245.48" y="502.30" font-family="Liberation Sans, sans-serif" font-size="7" text-anchor="middle" stroke="#262626" stroke-width="0.12" stroke-linejoin="round" fill="#262626">0.103</text>
<text x="296.50" y="502.30" font-family="Liberation Sans, sans-serif" font-size="7" text-anchor="middle" stroke="#262626" stroke-width="0.12" stroke-linejoin="round" fill="#262626">0.104</text>
<text x="347.52" y="502.30" font-family="Liberation Sans, sans-serif" font-size="7" text-anchor="middle" stroke="#262626" stroke-width="0.12" stroke-linejoin="round" fill="#262626">0.105</text>
<text x="398.54" y="502.30" font-family="Liberation Sans, sans-serif" font-size="7" text-anchor="middle" stroke="#262626" stroke-width="0.12" stroke-linejoin="round" fill="#262626">0.106</text>
<text x="449.56" y="502.30" font-family="Liberation Sans, sans-serif" font-size="7" text-anchor="middle" stroke="#262626" stroke-width="0.12" stroke-linejoin="round" fill="#262626">0.107</text>
<text x="500.58" y="502.30" font-family="Liberation Sans, sans-serif" font-size="7" text-anchor="middle" stroke="#262626" stroke-width="0.12" stroke-linejoin="round" fill="#262626">0.108</text>
<text x="25.00" y="483.10" font-family="Liberation Sans, sans-serif" font-size="7" text-anchor="end" stroke="#262626" stroke-width="0.12" stroke-linejoin="round" fill="#262626">-100</text>
<text x="25.00" y="441.40" font-family="Liberation Sans, sans-serif" font-size="7" text-anchor="end" stroke="#262626" stroke-width="0.12" stroke-linejoin="round" fill="#262626">-50</text>
<text x="25.00" y="399.70" font-family="Liberation Sans, sans-serif" font-size="7" text-anchor="end" stroke="#262626" stroke-width="0.12" stroke-linejoin="round" fill="#262626">0</text>
<text x="25.00" y="358.00" font-family="Liberation Sans, sans-serif" font-size="7" text-anchor="end" stroke="#262626" stroke-width="0.12" stroke-linejoin="round" fill="#262626">50</text>
<text x="25.00" y="316.30" font-family="Liberation Sans, sans-serif" font-size="7" text-anchor="end" stroke="#262626" stroke-width="0.12" stroke-linejoin="round" fill="#262626">100</text>
<text x="285.70" y="239.30" font-family="Liberation Sans, sans-serif" font-size="8" text-anchor="middle" stroke="#262626" stroke-width="0.12" stroke-linejoin="round" fill="#262626">Time (seconds)</text>
<text x="285.70" y="511.50" font-family="Liberation Sans, sans-serif" font-size="8" text-anchor="middle" stroke="#262626" stroke-width="0.12" stroke-linejoin="round" fill="#262626">Time (seconds)</text>
<text transform="translate(10.20,111.60) rotate(-90)" font-family="Liberation Sans, sans-serif" font-size="8.2" text-anchor="middle" stroke="#262626" stroke-width="0.12" stroke-linejoin="round" fill="#262626">Back-EMF (V)</text>
<text transform="translate(10.40,385.40) rotate(-90)" font-family="Liberation Sans, sans-serif" font-size="8.2" text-anchor="middle" stroke="#262626" stroke-width="0.12" stroke-linejoin="round" fill="#262626">Back-EMF (V)</text>
<text x="301.10" y="265.80" font-family="Liberation Serif, serif" font-size="12.5" font-weight="bold" text-anchor="middle" fill="#111">(a)</text>
<text x="301.20" y="538.80" font-family="Liberation Serif, serif" font-size="12.5" font-weight="bold" text-anchor="middle" fill="#111">(b)</text>
<text x="111.80" y="27.00" font-family="Liberation Serif, serif" font-size="10.3" font-weight="bold" font-style="italic" fill="#ff1a1a">e</text>
<text x="116.67" y="29.40" font-family="Liberation Serif, serif" font-size="5.4" font-weight="bold" font-style="italic" fill="#ff1a1a">a</text>
<line x1="121.40" y1="29.20" x2="205.16" y2="72.67" stroke="#ff1a1a" stroke-width="1.15"/>
<polygon points="211.20,75.80 203.03,74.60 205.52,69.81" fill="#ff1a1a"/>
<text x="137.20" y="27.40" font-family="Liberation Serif, serif" font-size="10.3" font-weight="bold" font-style="italic" fill="#8a8a10">e</text>
<text x="142.07" y="29.80" font-family="Liberation Serif, serif" font-size="5.4" font-weight="bold" font-style="italic" fill="#8a8a10">a</text>
<text x="148.17" y="27.40" font-family="Liberation Serif, serif" font-size="10.3" font-weight="bold" font-style="italic" letter-spacing="0.4" fill="#8a8a10">reconstruction</text>
<line x1="186.20" y1="30.70" x2="208.45" y2="67.00" stroke="#8a8a10" stroke-width="1.15"/>
<polygon points="212.00,72.80 205.62,67.56 210.23,64.74" fill="#8a8a10"/>
<text x="297.40" y="25.80" font-family="Liberation Serif, serif" font-size="10.3" font-weight="bold" font-style="italic" fill="#3838f0">e</text>
<text x="302.27" y="28.20" font-family="Liberation Serif, serif" font-size="5.4" font-weight="bold" font-style="italic" fill="#3838f0">x</text>
<line x1="299.30" y1="30.50" x2="286.12" y2="53.12" stroke="#3838f0" stroke-width="1.15"/>
<polygon points="282.70,59.00 284.29,50.90 288.96,53.62" fill="#3838f0"/>
<text x="322.60" y="25.70" font-family="Liberation Serif, serif" font-size="10.3" font-weight="bold" font-style="italic" fill="#18a018">e</text>
<text x="327.47" y="28.10" font-family="Liberation Serif, serif" font-size="5.4" font-weight="bold" font-style="italic" fill="#18a018">x</text>
<text x="333.57" y="25.70" font-family="Liberation Serif, serif" font-size="10.3" font-weight="bold" font-style="italic" letter-spacing="0.4" fill="#18a018">reconstruction</text>
<line x1="346.40" y1="28.40" x2="289.60" y2="56.49" stroke="#18a018" stroke-width="1.15"/>
<polygon points="283.50,59.50 289.30,53.62 291.69,58.46" fill="#18a018"/>
<text x="33.30" y="348.60" font-family="Liberation Serif, serif" font-size="10.3" font-weight="bold" font-style="italic" fill="#ff1a1a">e</text>
<text x="38.17" y="351.00" font-family="Liberation Serif, serif" font-size="5.4" font-weight="bold" font-style="italic" fill="#ff1a1a">a</text>
<line x1="42.80" y1="353.60" x2="72.36" y2="384.02" stroke="#ff1a1a" stroke-width="1.15"/>
<polygon points="77.10,388.90 69.73,385.19 73.60,381.42" fill="#ff1a1a"/>
<text x="57.30" y="348.60" font-family="Liberation Serif, serif" font-size="10.3" font-weight="bold" font-style="italic" fill="#8a8a10">e</text>
<text x="62.17" y="351.00" font-family="Liberation Serif, serif" font-size="5.4" font-weight="bold" font-style="italic" fill="#8a8a10">a</text>
<text x="68.27" y="348.60" font-family="Liberation Serif, serif" font-size="10.3" font-weight="bold" font-style="italic" letter-spacing="0.4" fill="#8a8a10">reconstruction</text>
<line x1="74.90" y1="351.80" x2="77.59" y2="381.73" stroke="#8a8a10" stroke-width="1.15"/>
<polygon points="78.20,388.50 74.81,380.97 80.19,380.49" fill="#8a8a10"/>
<text x="198.50" y="406.60" font-family="Liberation Serif, serif" font-size="10.3" font-weight="bold" font-style="italic" fill="#3838f0">e</text>
<text x="203.37" y="409.00" font-family="Liberation Serif, serif" font-size="5.4" font-weight="bold" font-style="italic" fill="#3838f0">x</text>
<line x1="202.70" y1="395.90" x2="202.70" y2="364.40" stroke="#3838f0" stroke-width="1.15"/>
<polygon points="202.70,356.40 205.20,365.40 200.20,365.40" fill="#3838f0"/>
<text x="222.90" y="406.90" font-family="Liberation Serif, serif" font-size="10.3" font-weight="bold" font-style="italic" fill="#18a018">e</text>
<text x="227.77" y="409.30" font-family="Liberation Serif, serif" font-size="5.4" font-weight="bold" font-style="italic" fill="#18a018">x</text>
<text x="233.87" y="406.90" font-family="Liberation Serif, serif" font-size="10.3" font-weight="bold" font-style="italic" letter-spacing="0.4" fill="#18a018">reconstruction</text>
<line x1="249.10" y1="397.30" x2="211.18" y2="360.53" stroke="#18a018" stroke-width="1.15"/>
<polygon points="206.30,355.80 213.78,359.29 210.02,363.17" fill="#18a018"/>
<rect x="50" y="465.5" width="120.5" height="21.5" fill="#fff"/>
<line x1="70.10" y1="396.80" x2="70.10" y2="457.30" stroke="#2a2a2a" stroke-width="1.1"/>
<polygon points="70.10,464.10 67.50,456.30 72.70,456.30" fill="#2a2a2a"/>
<line x1="140.80" y1="396.80" x2="140.80" y2="457.40" stroke="#2a2a2a" stroke-width="1.1"/>
<polygon points="140.80,464.20 138.20,456.40 143.40,456.40" fill="#2a2a2a"/>
<text x="55.20" y="474.00" font-family="Liberation Serif, serif" font-size="9.8" stroke="#111" stroke-width="0.15" stroke-linejoin="round" fill="#111">ta=0.09958 s</text>
<text x="113.80" y="474.00" font-family="Liberation Serif, serif" font-size="9.8" stroke="#111" stroke-width="0.15" stroke-linejoin="round" fill="#111">tx=0.10097 s</text>
<text x="79.30" y="485.80" font-family="Liberation Serif, serif" font-size="9.8" stroke="#111" stroke-width="0.15" stroke-linejoin="round" fill="#111">tx-ta=0.00139 s</text>
</svg></body></html>
